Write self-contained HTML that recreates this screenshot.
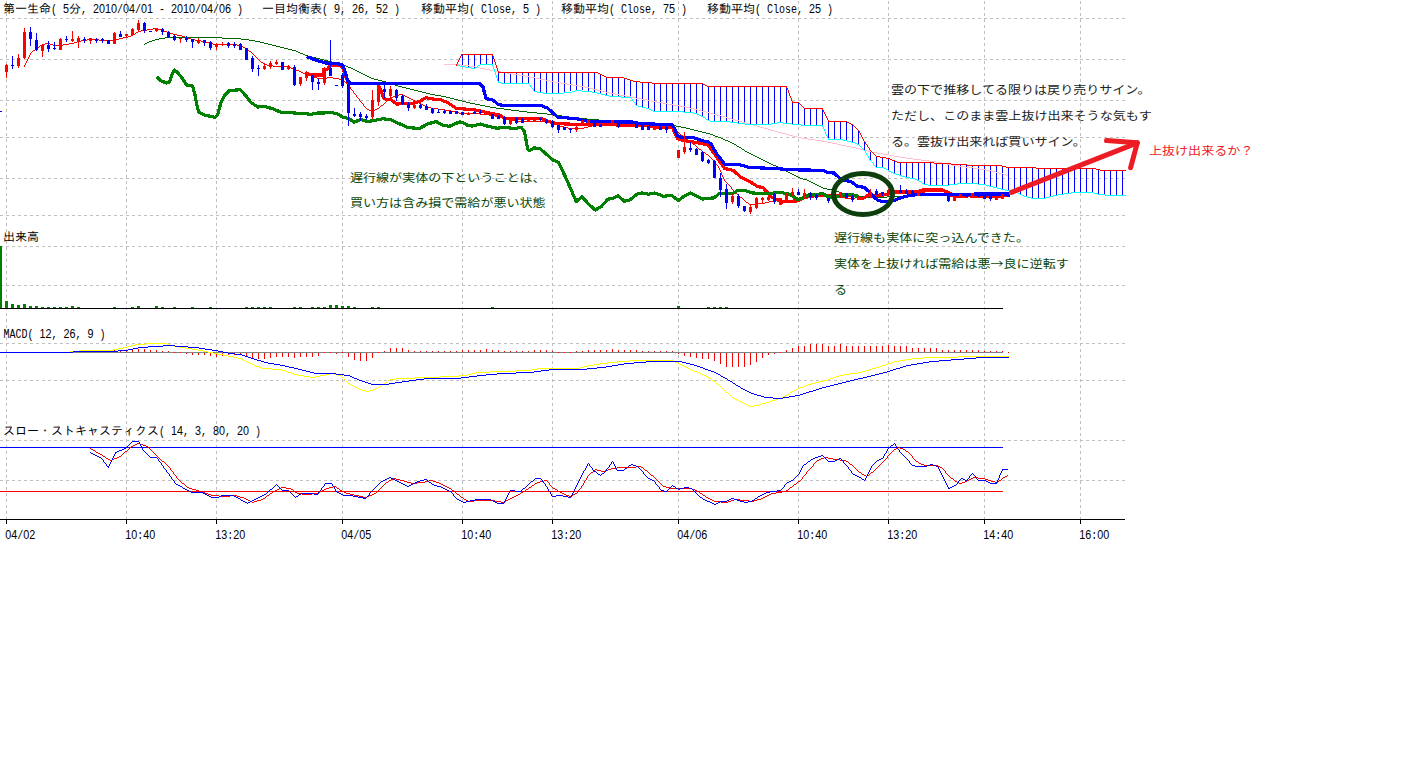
<!DOCTYPE html>
<html lang="ja"><head><meta charset="utf-8"><title>第一生命 5分足 一目均衡表</title>
<style>html,body{margin:0;padding:0;background:#fff;overflow:hidden}svg{display:block}</style>
</head><body>
<svg width="1416" height="768" viewBox="0 0 1416 768">
<rect width="1416" height="768" fill="#fff"/>
<g shape-rendering="crispEdges" stroke="#c0c0c0" stroke-width="1" stroke-dasharray="3 3" fill="none">
<line x1="0" y1="18.5" x2="1125" y2="18.5"/>
<line x1="0" y1="59.5" x2="1125" y2="59.5"/>
<line x1="0" y1="100.5" x2="1125" y2="100.5"/>
<line x1="0" y1="137.5" x2="1125" y2="137.5"/>
<line x1="0" y1="178.5" x2="1125" y2="178.5"/>
<line x1="0" y1="215.5" x2="1125" y2="215.5"/>
<line x1="0" y1="246.5" x2="1125" y2="246.5"/>
<line x1="0" y1="285.5" x2="1125" y2="285.5"/>
<line x1="0" y1="343.5" x2="1125" y2="343.5"/>
<line x1="0" y1="380.5" x2="1125" y2="380.5"/>
<line x1="0" y1="440.5" x2="1125" y2="440.5"/>
<line x1="0" y1="480.5" x2="1125" y2="480.5"/>
<line x1="6.5" y1="1" x2="6.5" y2="519"/>
<line x1="126.5" y1="1" x2="126.5" y2="519"/>
<line x1="216.5" y1="1" x2="216.5" y2="519"/>
<line x1="342.5" y1="1" x2="342.5" y2="519"/>
<line x1="462.5" y1="1" x2="462.5" y2="519"/>
<line x1="552.5" y1="1" x2="552.5" y2="519"/>
<line x1="678.5" y1="1" x2="678.5" y2="519"/>
<line x1="798.5" y1="1" x2="798.5" y2="519"/>
<line x1="888.5" y1="1" x2="888.5" y2="519"/>
<line x1="984.5" y1="1" x2="984.5" y2="519"/>
<line x1="1080.5" y1="1" x2="1080.5" y2="519"/>
</g>
<g shape-rendering="crispEdges">
<rect x="462" y="55" width="1" height="12" fill="#0000ff"/>
<rect x="468" y="55" width="1" height="13" fill="#0000ff"/>
<rect x="474" y="54" width="1" height="14" fill="#0000ff"/>
<rect x="480" y="54" width="1" height="10" fill="#0000ff"/>
<rect x="486" y="54" width="1" height="10" fill="#0000ff"/>
<rect x="492" y="54" width="1" height="10" fill="#0000ff"/>
<rect x="498" y="72" width="1" height="10" fill="#0000ff"/>
<rect x="504" y="72" width="1" height="11" fill="#0000ff"/>
<rect x="510" y="72" width="1" height="11" fill="#0000ff"/>
<rect x="516" y="72" width="1" height="11" fill="#0000ff"/>
<rect x="522" y="72" width="1" height="11" fill="#0000ff"/>
<rect x="528" y="72" width="1" height="11" fill="#0000ff"/>
<rect x="534" y="72" width="1" height="19" fill="#0000ff"/>
<rect x="540" y="72" width="1" height="20" fill="#0000ff"/>
<rect x="546" y="72" width="1" height="21" fill="#0000ff"/>
<rect x="552" y="72" width="1" height="21" fill="#0000ff"/>
<rect x="558" y="72" width="1" height="21" fill="#0000ff"/>
<rect x="564" y="72" width="1" height="20" fill="#0000ff"/>
<rect x="570" y="72" width="1" height="19" fill="#0000ff"/>
<rect x="576" y="72" width="1" height="18" fill="#0000ff"/>
<rect x="582" y="72" width="1" height="18" fill="#0000ff"/>
<rect x="588" y="72" width="1" height="19" fill="#0000ff"/>
<rect x="594" y="72" width="1" height="20" fill="#0000ff"/>
<rect x="600" y="74" width="1" height="20" fill="#0000ff"/>
<rect x="606" y="77" width="1" height="18" fill="#0000ff"/>
<rect x="612" y="77" width="1" height="19" fill="#0000ff"/>
<rect x="618" y="78" width="1" height="19" fill="#0000ff"/>
<rect x="624" y="79" width="1" height="18" fill="#0000ff"/>
<rect x="630" y="80" width="1" height="17" fill="#0000ff"/>
<rect x="636" y="82" width="1" height="24" fill="#0000ff"/>
<rect x="642" y="82" width="1" height="25" fill="#0000ff"/>
<rect x="648" y="82" width="1" height="26" fill="#0000ff"/>
<rect x="654" y="83" width="1" height="29" fill="#0000ff"/>
<rect x="660" y="84" width="1" height="28" fill="#0000ff"/>
<rect x="666" y="84" width="1" height="28" fill="#0000ff"/>
<rect x="672" y="84" width="1" height="28" fill="#0000ff"/>
<rect x="678" y="84" width="1" height="28" fill="#0000ff"/>
<rect x="684" y="84" width="1" height="28" fill="#0000ff"/>
<rect x="690" y="84" width="1" height="29" fill="#0000ff"/>
<rect x="696" y="84" width="1" height="30" fill="#0000ff"/>
<rect x="702" y="84" width="1" height="33" fill="#0000ff"/>
<rect x="708" y="86" width="1" height="34" fill="#0000ff"/>
<rect x="714" y="86" width="1" height="35" fill="#0000ff"/>
<rect x="720" y="86" width="1" height="35" fill="#0000ff"/>
<rect x="726" y="86" width="1" height="35" fill="#0000ff"/>
<rect x="732" y="86" width="1" height="36" fill="#0000ff"/>
<rect x="738" y="86" width="1" height="37" fill="#0000ff"/>
<rect x="744" y="86" width="1" height="38" fill="#0000ff"/>
<rect x="750" y="86" width="1" height="38" fill="#0000ff"/>
<rect x="756" y="86" width="1" height="38" fill="#0000ff"/>
<rect x="762" y="86" width="1" height="38" fill="#0000ff"/>
<rect x="768" y="86" width="1" height="38" fill="#0000ff"/>
<rect x="774" y="86" width="1" height="37" fill="#0000ff"/>
<rect x="780" y="86" width="1" height="36" fill="#0000ff"/>
<rect x="786" y="87" width="1" height="36" fill="#0000ff"/>
<rect x="792" y="102" width="1" height="22" fill="#0000ff"/>
<rect x="798" y="102" width="1" height="22" fill="#0000ff"/>
<rect x="804" y="108" width="1" height="17" fill="#0000ff"/>
<rect x="810" y="108" width="1" height="17" fill="#0000ff"/>
<rect x="816" y="108" width="1" height="17" fill="#0000ff"/>
<rect x="822" y="108" width="1" height="17" fill="#0000ff"/>
<rect x="828" y="122" width="1" height="18" fill="#0000ff"/>
<rect x="834" y="122" width="1" height="18" fill="#0000ff"/>
<rect x="840" y="122" width="1" height="18" fill="#0000ff"/>
<rect x="846" y="122" width="1" height="19" fill="#0000ff"/>
<rect x="852" y="125" width="1" height="17" fill="#0000ff"/>
<rect x="858" y="130" width="1" height="14" fill="#0000ff"/>
<rect x="864" y="141" width="1" height="9" fill="#0000ff"/>
<rect x="870" y="151" width="1" height="9" fill="#0000ff"/>
<rect x="876" y="156" width="1" height="11" fill="#0000ff"/>
<rect x="882" y="157" width="1" height="11" fill="#0000ff"/>
<rect x="888" y="159" width="1" height="12" fill="#0000ff"/>
<rect x="894" y="161" width="1" height="12" fill="#0000ff"/>
<rect x="900" y="162" width="1" height="13" fill="#0000ff"/>
<rect x="906" y="162" width="1" height="15" fill="#0000ff"/>
<rect x="912" y="162" width="1" height="16" fill="#0000ff"/>
<rect x="918" y="162" width="1" height="18" fill="#0000ff"/>
<rect x="924" y="162" width="1" height="22" fill="#0000ff"/>
<rect x="930" y="163" width="1" height="22" fill="#0000ff"/>
<rect x="936" y="163" width="1" height="22" fill="#0000ff"/>
<rect x="942" y="164" width="1" height="22" fill="#0000ff"/>
<rect x="948" y="164" width="1" height="21" fill="#0000ff"/>
<rect x="954" y="164" width="1" height="20" fill="#0000ff"/>
<rect x="960" y="165" width="1" height="19" fill="#0000ff"/>
<rect x="966" y="165" width="1" height="18" fill="#0000ff"/>
<rect x="972" y="165" width="1" height="18" fill="#0000ff"/>
<rect x="978" y="165" width="1" height="19" fill="#0000ff"/>
<rect x="984" y="165" width="1" height="19" fill="#0000ff"/>
<rect x="990" y="166" width="1" height="21" fill="#0000ff"/>
<rect x="996" y="166" width="1" height="22" fill="#0000ff"/>
<rect x="1002" y="166" width="1" height="23" fill="#0000ff"/>
<rect x="1008" y="168" width="1" height="23" fill="#0000ff"/>
<rect x="1014" y="168" width="1" height="24" fill="#0000ff"/>
<rect x="1020" y="168" width="1" height="27" fill="#0000ff"/>
<rect x="1026" y="168" width="1" height="29" fill="#0000ff"/>
<rect x="1032" y="168" width="1" height="31" fill="#0000ff"/>
<rect x="1038" y="168" width="1" height="31" fill="#0000ff"/>
<rect x="1044" y="168" width="1" height="30" fill="#0000ff"/>
<rect x="1050" y="168" width="1" height="29" fill="#0000ff"/>
<rect x="1056" y="168" width="1" height="28" fill="#0000ff"/>
<rect x="1062" y="168" width="1" height="26" fill="#0000ff"/>
<rect x="1068" y="168" width="1" height="25" fill="#0000ff"/>
<rect x="1074" y="168" width="1" height="24" fill="#0000ff"/>
<rect x="1080" y="168" width="1" height="24" fill="#0000ff"/>
<rect x="1086" y="168" width="1" height="24" fill="#0000ff"/>
<rect x="1092" y="168" width="1" height="24" fill="#0000ff"/>
<rect x="1098" y="170" width="1" height="24" fill="#0000ff"/>
<rect x="1104" y="170" width="1" height="24" fill="#0000ff"/>
<rect x="1110" y="170" width="1" height="25" fill="#0000ff"/>
<rect x="1116" y="170" width="1" height="25" fill="#0000ff"/>
<rect x="1122" y="170" width="1" height="25" fill="#0000ff"/>
</g>
<g shape-rendering="crispEdges" stroke-linejoin="round">
<path d="M444 64.5h17M461 65.5h8M469 66.5h6M475 67.5h5M480 68.5h5M485 69.5h5M490 70.5h5M495 71.5h6M501 72.5h6M507 73.5h6M513 74.5h6M519 75.5h6M525 76.5h5M530 77.5h5M535 78.5h5M540 79.5h5M545 80.5h5M550 81.5h5M555 82.5h6M561 83.5h6M567 84.5h6M573 85.5h6M579 86.5h6M585 87.5h4M589 88.5h4M593 89.5h4M597 90.5h5M602 91.5h4M606 92.5h4M610 93.5h5M615 94.5h5M620 95.5h5M625 96.5h6M631 97.5h5M636 98.5h5M641 99.5h6M647 100.5h5M652 101.5h5M657 102.5h6M663 103.5h5M668 104.5h6M674 105.5h6M680 106.5h6M686 107.5h4M690 108.5h4M694 109.5h4M698 110.5h4M702 111.5h4M706 112.5h4M710 113.5h4M714 114.5h3M717 115.5h4M721 116.5h4M725 117.5h3M728 118.5h4M732 119.5h3M735 120.5h4M739 121.5h3M742 122.5h4M746 123.5h4M750 124.5h3M753 125.5h4M757 126.5h3M760 127.5h4M764 128.5h4M768 129.5h3M771 130.5h4M775 131.5h3M778 132.5h4M782 133.5h4M786 134.5h3M789 135.5h4M793 136.5h4M797 137.5h5M802 138.5h6M808 139.5h7M815 140.5h6M821 141.5h6M827 142.5h5M832 143.5h5M837 144.5h4M841 145.5h5M846 146.5h5M851 147.5h5M856 148.5h4M860 149.5h4M864 150.5h4M868 151.5h4M872 152.5h5M877 153.5h6M883 154.5h6M889 155.5h5M894 156.5h6M900 157.5h6M906 158.5h7M913 159.5h8M921 160.5h8M929 161.5h7M936 162.5h6M942 163.5h5M947 164.5h5M952 165.5h6M958 166.5h7M965 167.5h8M973 168.5h7M980 169.5h6M986 170.5h6M992 171.5h4M996 172.5h3M999 173.5h4M1003 174.5h3M1006 175.5h2" fill="none" stroke="#ffc0cb" stroke-width="1"/>
<path d="M480 64.5h13M457 65.5h3M478 65.5h2M460 66.5h5M465 67.5h6M475 67.5h2M471 68.5h4M498 82.5h3M501 83.5h28M575 90.5h7M534 91.5h3M572 91.5h3M582 91.5h10M537 92.5h6M564 92.5h8M592 92.5h5M543 93.5h21M597 93.5h4M601 94.5h4M605 95.5h4M609 96.5h12M621 97.5h10M636 105.5h2M638 106.5h4M642 107.5h4M646 108.5h3M649 109.5h2M651 110.5h2M653 111.5h31M684 112.5h9M693 113.5h4M697 114.5h2M699 115.5h2M701 116.5h2M703 117.5h2M706 119.5h2M708 120.5h2M710 121.5h20M730 122.5h7M777 122.5h6M737 123.5h8M771 123.5h6M783 123.5h9M745 124.5h26M792 124.5h9M801 125.5h22M828 139.5h15M843 140.5h4M847 141.5h4M851 142.5h4M855 143.5h2M857 144.5h2M876 167.5h8M884 168.5h2M886 169.5h2M889 171.5h2M891 172.5h2M893 173.5h3M896 174.5h3M899 175.5h3M902 176.5h3M905 177.5h5M910 178.5h5M915 179.5h2M917 180.5h2M919 181.5h2M922 183.5h2M957 183.5h21M924 184.5h4M949 184.5h8M978 184.5h8M928 185.5h21M986 185.5h3M989 186.5h4M993 187.5h4M997 188.5h4M1001 189.5h4M1005 190.5h6M1011 191.5h5M1016 192.5h2M1071 192.5h23M1018 193.5h2M1064 193.5h7M1094 193.5h4M1020 194.5h2M1058 194.5h6M1098 194.5h7M1022 195.5h2M1053 195.5h5M1105 195.5h21M1024 196.5h3M1049 196.5h4M1027 197.5h4M1046 197.5h3M1031 198.5h15M477.5 66v1M492.5 65v1M493.5 66v3M494.5 69v3M495.5 72v3M496.5 75v3M497.5 78v3M498.5 81v1M529.5 84v1M530.5 85v2M531.5 87v1M532.5 88v1M533.5 89v2M631.5 98v1M632.5 99v2M633.5 101v1M634.5 102v1M635.5 103v2M705.5 118v1M822.5 126v1M823.5 127v2M824.5 129v2M825.5 131v3M826.5 134v2M827.5 136v2M828.5 138v1M859.5 145v1M860.5 146v1M861.5 147v1M862.5 148v1M863.5 149v1M864.5 150v1M865.5 151v2M866.5 153v2M867.5 155v1M868.5 156v2M869.5 158v2M870.5 160v1M871.5 161v1M872.5 162v1M873.5 163v2M874.5 165v1M875.5 166v1M888.5 170v1M921.5 182v1" fill="none" stroke="#00ffff" stroke-width="1"/>
<path d="M461 54.5h32M498 72.5h100M598 73.5h2M600 74.5h2M602 75.5h2M604 76.5h2M606 77.5h18M624 78.5h3M627 79.5h3M630 80.5h3M633 81.5h7M640 82.5h12M652 83.5h51M703 84.5h2M705 85.5h2M707 86.5h80M792 102.5h7M804 108.5h19M828 121.5h19M847 122.5h2M849 123.5h2M851 124.5h2M876 156.5h4M880 157.5h6M886 158.5h4M890 159.5h2M892 160.5h3M895 161.5h2M897 162.5h37M934 163.5h17M951 164.5h16M967 165.5h35M1002 166.5h4M1006 167.5h30M1036 168.5h60M1096 169.5h4M1100 170.5h26M456.5 64v2M457.5 62v2M458.5 60v2M459.5 58v2M460.5 56v2M461.5 55v1M492.5 55v1M493.5 56v3M494.5 59v3M495.5 62v3M496.5 65v3M497.5 68v3M498.5 71v1M786.5 87v1M787.5 88v2M788.5 90v3M789.5 93v3M790.5 96v2M791.5 98v3M792.5 101v1M799.5 103v1M800.5 104v1M801.5 105v1M802.5 106v1M803.5 107v1M822.5 109v1M823.5 110v2M824.5 112v2M825.5 114v2M826.5 116v2M827.5 118v2M828.5 120v1M853.5 125v1M854.5 126v1M855.5 127v1M856.5 128v1M857.5 129v1M858.5 130v1M859.5 131v2M860.5 133v2M861.5 135v2M862.5 137v2M863.5 139v2M864.5 141v1M865.5 142v2M866.5 144v1M867.5 145v2M868.5 147v1M869.5 148v2M870.5 150v1M871.5 151v1M872.5 152v1M873.5 153v1M874.5 154v1M875.5 155v1" fill="none" stroke="#ff0000" stroke-width="1"/>
<path d="M165 37.5h57M159 38.5h6M222 38.5h19M155 39.5h4M241 39.5h8M152 40.5h3M249 40.5h6M149 41.5h3M255 41.5h5M147 42.5h2M260 42.5h4M145 43.5h2M264 43.5h4M268 44.5h4M272 45.5h4M276 46.5h4M280 47.5h4M284 48.5h4M288 49.5h4M292 50.5h4M296 51.5h2M298 52.5h2M300 53.5h3M303 54.5h2M305 55.5h3M308 56.5h4M312 57.5h4M316 58.5h4M320 59.5h4M324 60.5h4M328 61.5h4M332 62.5h4M336 63.5h4M340 64.5h4M344 65.5h2M346 66.5h2M348 67.5h3M351 68.5h2M353 69.5h2M355 70.5h2M357 71.5h2M359 72.5h2M361 73.5h2M363 74.5h2M365 75.5h2M367 76.5h2M369 77.5h2M371 78.5h3M374 79.5h4M378 80.5h4M382 81.5h4M386 82.5h3M389 83.5h3M392 84.5h3M395 85.5h3M398 86.5h4M402 87.5h4M406 88.5h4M410 89.5h4M414 90.5h4M418 91.5h4M422 92.5h4M426 93.5h4M430 94.5h5M435 95.5h6M441 96.5h5M446 97.5h4M450 98.5h4M454 99.5h4M458 100.5h4M462 101.5h4M466 102.5h4M470 103.5h5M475 104.5h5M480 105.5h5M485 106.5h5M490 107.5h6M496 108.5h8M504 109.5h7M511 110.5h8M519 111.5h8M527 112.5h10M537 113.5h10M547 114.5h9M556 115.5h6M562 116.5h7M569 117.5h8M577 118.5h10M587 119.5h12M599 120.5h13M612 121.5h14M626 122.5h13M639 123.5h14M653 124.5h14M667 125.5h9M676 126.5h5M681 127.5h5M686 128.5h4M690 129.5h4M694 130.5h4M698 131.5h4M702 132.5h4M706 133.5h4M710 134.5h3M713 135.5h2M715 136.5h3M718 137.5h3M721 138.5h2M723 139.5h2M725 140.5h3M728 141.5h2M730 142.5h2M732 143.5h2M734 144.5h2M737 146.5h2M739 147.5h2M742 149.5h2M745 151.5h2M747 152.5h2M749 153.5h2M751 154.5h2M753 155.5h2M755 156.5h2M757 157.5h2M759 158.5h2M761 159.5h2M763 160.5h2M765 161.5h2M767 162.5h2M769 163.5h2M771 164.5h2M773 165.5h3M776 166.5h2M778 167.5h2M780 168.5h2M782 169.5h2M784 170.5h2M786 171.5h2M788 172.5h2M790 173.5h2M792 174.5h2M794 175.5h2M796 176.5h2M798 177.5h2M800 178.5h3M803 179.5h4M807 180.5h2M809 181.5h2M811 182.5h2M813 183.5h2M815 184.5h2M817 185.5h2M819 186.5h2M821 187.5h2M823 188.5h4M827 189.5h5M832 190.5h4M836 191.5h3M839 192.5h3M842 193.5h3M845 194.5h3M915 194.5h94M848 195.5h8M905 195.5h10M856 196.5h12M887 196.5h18M868 197.5h19M144.5 44v1M736.5 145v1M741.5 148v1M744.5 150v1" fill="none" stroke="#006400" stroke-width="1"/>
</g>
<g shape-rendering="crispEdges" stroke-linejoin="round" stroke-linecap="butt">
<path d="M153 28.5h5M147 29.5h6M158 29.5h3M141 30.5h6M161 30.5h3M138 31.5h3M164 31.5h3M136 32.5h2M167 32.5h3M170 33.5h3M133 34.5h2M173 34.5h4M131 35.5h2M177 35.5h5M128 36.5h3M182 36.5h3M123 37.5h5M185 37.5h3M119 38.5h4M188 38.5h3M87 39.5h12M116 39.5h3M191 39.5h4M81 40.5h6M99 40.5h17M195 40.5h6M77 41.5h4M201 41.5h5M74 42.5h3M206 42.5h3M45 43.5h5M69 43.5h5M209 43.5h4M42 44.5h3M50 44.5h3M63 44.5h6M213 44.5h24M40 45.5h2M53 45.5h10M237 45.5h4M241 46.5h2M37 47.5h2M243 47.5h2M245 48.5h2M33 50.5h2M249 51.5h2M261 62.5h2M264 64.5h3M267 65.5h6M273 66.5h16M289 67.5h2M291 68.5h2M293 69.5h3M296 70.5h3M299 71.5h2M301 72.5h2M303 73.5h2M305 74.5h3M308 75.5h3M311 76.5h3M314 77.5h3M327 77.5h6M317 78.5h10M333 78.5h6M339 79.5h4M399 94.5h4M395 95.5h4M403 95.5h2M393 96.5h2M405 96.5h2M391 97.5h2M407 97.5h2M409 98.5h2M411 99.5h2M387 100.5h2M413 100.5h2M415 101.5h2M417 102.5h2M419 103.5h2M421 104.5h2M381 105.5h2M423 105.5h2M425 106.5h2M427 107.5h4M377 108.5h2M431 108.5h7M367 109.5h2M375 109.5h2M438 109.5h7M369 110.5h2M373 110.5h2M445 110.5h6M371 111.5h2M451 111.5h5M456 112.5h3M459 113.5h21M480 114.5h9M489 115.5h6M495 116.5h5M500 117.5h3M503 118.5h3M506 119.5h3M509 120.5h7M516 121.5h32M548 122.5h3M551 123.5h3M554 124.5h3M600 124.5h15M557 125.5h3M592 125.5h8M615 125.5h18M560 126.5h4M588 126.5h4M633 126.5h14M564 127.5h4M584 127.5h4M647 127.5h9M568 128.5h16M656 128.5h17M673 129.5h2M676 131.5h2M681 135.5h2M685 138.5h2M688 140.5h2M693 144.5h2M699 149.5h2M703 152.5h2M706 154.5h2M900 192.5h25M887 193.5h13M925 193.5h17M880 194.5h7M942 194.5h4M808 195.5h12M874 195.5h6M946 195.5h4M803 196.5h5M820 196.5h15M865 196.5h9M950 196.5h4M968 196.5h41M740 197.5h2M799 197.5h4M835 197.5h10M855 197.5h10M954 197.5h14M796 198.5h3M845 198.5h10M793 199.5h3M773 200.5h20M769 201.5h4M746 202.5h2M765 202.5h4M756 203.5h9M749 204.5h7M24.5 65v2M25.5 63v2M26.5 61v2M27.5 59v2M28.5 57v2M29.5 55v2M30.5 53v2M31.5 52v1M32.5 51v1M35.5 49v1M36.5 48v1M39.5 46v1M135.5 33v1M247.5 49v1M248.5 50v1M251.5 52v1M252.5 53v1M253.5 54v1M254.5 55v1M255.5 56v1M256.5 57v1M257.5 58v1M258.5 59v1M259.5 60v1M260.5 61v1M263.5 63v1M343.5 80v1M344.5 81v1M345.5 82v1M346.5 83v1M347.5 84v1M348.5 85v1M349.5 86v1M350.5 87v2M351.5 89v1M352.5 90v1M353.5 91v2M354.5 93v1M355.5 94v1M356.5 95v2M357.5 97v1M358.5 98v1M359.5 99v2M360.5 101v1M361.5 102v1M362.5 103v1M363.5 104v2M364.5 106v1M365.5 107v1M366.5 108v1M379.5 107v1M380.5 106v1M383.5 104v1M384.5 103v1M385.5 102v1M386.5 101v1M389.5 99v1M390.5 98v1M675.5 130v1M678.5 132v1M679.5 133v1M680.5 134v1M683.5 136v1M684.5 137v1M687.5 139v1M690.5 141v1M691.5 142v1M692.5 143v1M695.5 145v1M696.5 146v1M697.5 147v1M698.5 148v1M701.5 150v1M702.5 151v1M705.5 153v1M708.5 155v1M709.5 156v1M710.5 157v1M711.5 158v1M712.5 159v1M713.5 160v2M714.5 162v1M715.5 163v1M716.5 164v1M717.5 165v1M718.5 166v2M719.5 168v2M720.5 170v2M721.5 172v3M722.5 175v2M723.5 177v2M724.5 179v2M725.5 181v1M726.5 182v1M727.5 183v1M728.5 184v1M729.5 185v1M730.5 186v1M731.5 187v2M732.5 189v1M733.5 190v1M734.5 191v1M735.5 192v1M736.5 193v1M737.5 194v1M738.5 195v1M739.5 196v1M742.5 198v1M743.5 199v1M744.5 200v1M745.5 201v1M748.5 203v1" fill="none" stroke="#ff0000" stroke-width="1"/>
<polyline points="306.8,73.5 311.5,74.9 323.0,74.9 323.6,69.6 327.0,69.6 330.0,65.7 340.6,65.7 342.9,68.4 345.2,74.8 347.7,81.5 349.3,83.7 378.5,83.7 378.5,85.7 381.0,90.7 383.5,98.2 386.0,99.3 391.0,99.8 396.8,104.0 402.7,103.7 412.7,103.2 419.3,101.5 426.0,97.7 432.7,99.0 441.0,99.8 447.7,102.7 456.0,108.2 464.3,109.0 472.0,109.4 488.7,112.8 500.3,115.3 505.3,118.7 542.0,118.7 552.0,122.8 565.3,124.0 588.7,124.5 622.0,125.0 638.7,125.3 672.0,126.7 674.5,132.0 677.8,138.7 682.0,140.3 693.7,142.0 708.0,144.8 716.3,156.7 724.7,168.5 733.0,170.3 741.3,177.5 751.3,182.5 758.0,186.7 763.0,187.5 768.0,193.3 772.2,197.5 778.0,200.0 781.3,202.0 798.0,200.8 804.7,197.5 814.7,195.8 824.7,195.8 838.0,195.3 857.4,196.0 858.8,198.8 864.0,198.0 866.9,196.0 869.8,194.5 872.7,196.6 876.4,195.2 887.3,194.8 889.0,192.0 917.5,191.9 922.5,190.0 942.5,190.0 950.0,193.1 955.0,195.6 985.0,196.2 1008.7,195.8" fill="none" stroke="#ff0000" stroke-width="3.2" />
<polyline points="306.8,56.7 316.0,60.3 326.0,63.0 336.0,63.7 341.0,64.2 343.5,66.7 346.0,75.0 347.7,80.8 350.2,83.5 472.0,83.5 480.3,84.0 483.0,87.0 486.0,98.7 492.0,99.5 497.8,104.0 502.0,105.3 540.3,105.3 547.0,107.8 552.0,112.0 557.8,117.3 565.3,117.8 577.0,118.7 582.0,120.3 592.0,121.7 632.0,122.0 638.7,123.3 650.3,124.0 672.0,124.5 674.5,128.7 677.8,136.2 682.0,137.3 693.7,137.8 702.0,140.7 708.0,141.8 711.3,144.2 716.3,153.3 724.7,164.2 739.7,164.7 749.7,167.5 774.7,168.5 791.3,169.8 823.0,170.3 828.0,172.7 834.0,173.0 839.9,178.4 845.0,180.6 850.8,181.3 857.4,186.4 864.0,187.2 869.8,192.3 874.2,197.4 878.6,200.7 884.4,201.8 888.8,201.6 894.6,200.3 900.0,198.1 908.0,195.8 918.0,194.4 944.0,194.2 1008.7,194.0" fill="none" stroke="#0000ff" stroke-width="3.2" />
<polyline points="156.5,76.7 160.8,80.8 166.7,83.0 169.7,81.7 172.5,73.3 174.5,70.0 177.5,72.5 181.7,77.5 186.7,85.0 192.5,85.8 195.0,95.0 197.5,108.3 199.2,112.5 204.5,115.0 210.5,116.3 215.0,117.5 217.5,115.0 220.8,103.3 224.2,95.8 229.2,90.8 236.0,90.0 240.5,89.8 244.3,94.0 251.0,102.5 257.7,107.0 264.3,106.5 272.7,108.7 281.0,112.3 291.0,112.8 302.7,113.5 311.0,114.3 317.7,113.0 332.7,112.8 337.7,114.0 342.7,117.0 349.3,118.7 354.3,122.3 360.2,119.5 367.7,121.5 374.3,120.5 382.7,118.7 391.0,119.8 399.3,123.7 407.7,127.5 419.3,128.5 427.7,124.0 436.0,121.5 442.7,125.0 449.3,126.3 459.3,122.0 462.7,122.3 467.7,125.5 472.0,126.0 480.3,124.0 488.7,126.5 497.0,128.2 505.3,127.2 513.7,128.7 521.2,127.2 524.5,131.8 527.8,149.5 529.5,150.8 534.5,147.7 540.3,149.0 546.2,154.0 552.8,160.0 558.7,162.5 565.3,176.7 572.0,191.7 576.2,201.7 582.0,196.7 588.7,204.2 595.3,210.0 601.2,206.7 607.8,199.2 612.8,198.3 617.8,195.8 624.5,201.3 630.3,199.7 637.0,194.2 642.0,193.0 648.7,194.2 654.5,193.0 663.7,196.3 671.2,195.3 678.7,200.5 684.5,195.8 690.3,193.0 696.2,195.8 702.8,199.2 708.0,198.2 713.8,198.0 719.7,193.3 733.0,193.3 738.0,190.3 743.8,190.3 753.0,193.0 763.0,193.7 774.7,193.0 781.3,192.5 789.7,194.2 798.0,199.7 803.8,197.5 809.7,194.7 816.3,195.0 822.2,193.3 828.0,196.7 834.7,197.5 846.3,194.7 853.0,194.7 858.8,196.7" fill="none" stroke="#008000" stroke-width="3.2" />
</g>
<g shape-rendering="crispEdges">
<rect x="0" y="111" width="1" height="1" fill="#0000ff"/>
<rect x="-1" y="111" width="3" height="1" fill="#0000ff"/>
<rect x="6" y="64" width="1" height="14" fill="#ff0000"/>
<rect x="5" y="65" width="3" height="7" fill="#ff0000"/>
<rect x="12" y="56" width="1" height="13" fill="#0000ff"/>
<rect x="11" y="65" width="3" height="1" fill="#0000ff"/>
<rect x="18" y="54" width="1" height="14" fill="#ff0000"/>
<rect x="17" y="58" width="3" height="8" fill="#ff0000"/>
<rect x="24" y="28" width="1" height="31" fill="#ff0000"/>
<rect x="23" y="32" width="3" height="26" fill="#ff0000"/>
<rect x="30" y="27" width="1" height="19" fill="#0000ff"/>
<rect x="29" y="32" width="3" height="7" fill="#0000ff"/>
<rect x="36" y="33" width="1" height="18" fill="#0000ff"/>
<rect x="35" y="40" width="3" height="10" fill="#0000ff"/>
<rect x="42" y="44" width="1" height="13" fill="#ff0000"/>
<rect x="41" y="45" width="3" height="6" fill="#ff0000"/>
<rect x="48" y="41" width="1" height="11" fill="#0000ff"/>
<rect x="47" y="45" width="3" height="4" fill="#0000ff"/>
<rect x="54" y="42" width="1" height="8" fill="#0000ff"/>
<rect x="53" y="48" width="3" height="1" fill="#0000ff"/>
<rect x="60" y="38" width="1" height="12" fill="#ff0000"/>
<rect x="59" y="39" width="3" height="11" fill="#ff0000"/>
<rect x="66" y="36" width="1" height="6" fill="#0000ff"/>
<rect x="65" y="39" width="3" height="1" fill="#0000ff"/>
<rect x="72" y="31" width="1" height="11" fill="#ff0000"/>
<rect x="71" y="39" width="3" height="2" fill="#ff0000"/>
<rect x="78" y="36" width="1" height="12" fill="#ff0000"/>
<rect x="77" y="38" width="3" height="3" fill="#ff0000"/>
<rect x="84" y="37" width="1" height="6" fill="#0000ff"/>
<rect x="83" y="39" width="3" height="1" fill="#0000ff"/>
<rect x="90" y="38" width="1" height="6" fill="#ff0000"/>
<rect x="89" y="38" width="3" height="3" fill="#ff0000"/>
<rect x="96" y="38" width="1" height="5" fill="#0000ff"/>
<rect x="95" y="39" width="3" height="2" fill="#0000ff"/>
<rect x="102" y="38" width="1" height="5" fill="#0000ff"/>
<rect x="101" y="39" width="3" height="2" fill="#0000ff"/>
<rect x="108" y="40" width="1" height="4" fill="#0000ff"/>
<rect x="107" y="40" width="3" height="4" fill="#0000ff"/>
<rect x="114" y="32" width="1" height="12" fill="#ff0000"/>
<rect x="113" y="33" width="3" height="11" fill="#ff0000"/>
<rect x="120" y="31" width="1" height="6" fill="#0000ff"/>
<rect x="119" y="34" width="3" height="3" fill="#0000ff"/>
<rect x="126" y="34" width="1" height="4" fill="#ff0000"/>
<rect x="125" y="34" width="3" height="2" fill="#ff0000"/>
<rect x="132" y="28" width="1" height="8" fill="#ff0000"/>
<rect x="131" y="29" width="3" height="6" fill="#ff0000"/>
<rect x="138" y="20" width="1" height="12" fill="#ff0000"/>
<rect x="137" y="23" width="3" height="7" fill="#ff0000"/>
<rect x="144" y="22" width="1" height="11" fill="#0000ff"/>
<rect x="143" y="23" width="3" height="8" fill="#0000ff"/>
<rect x="150" y="31" width="1" height="1" fill="#0000ff"/>
<rect x="149" y="31" width="3" height="1" fill="#0000ff"/>
<rect x="156" y="28" width="1" height="4" fill="#ff0000"/>
<rect x="155" y="29" width="3" height="2" fill="#ff0000"/>
<rect x="162" y="28" width="1" height="7" fill="#0000ff"/>
<rect x="161" y="29" width="3" height="3" fill="#0000ff"/>
<rect x="168" y="31" width="1" height="7" fill="#0000ff"/>
<rect x="167" y="32" width="3" height="5" fill="#0000ff"/>
<rect x="174" y="35" width="1" height="6" fill="#0000ff"/>
<rect x="173" y="36" width="3" height="4" fill="#0000ff"/>
<rect x="180" y="38" width="1" height="5" fill="#ff0000"/>
<rect x="179" y="38" width="3" height="1" fill="#ff0000"/>
<rect x="186" y="36" width="1" height="6" fill="#0000ff"/>
<rect x="185" y="38" width="3" height="2" fill="#0000ff"/>
<rect x="192" y="39" width="1" height="9" fill="#0000ff"/>
<rect x="191" y="39" width="3" height="3" fill="#0000ff"/>
<rect x="198" y="38" width="1" height="6" fill="#ff0000"/>
<rect x="197" y="40" width="3" height="3" fill="#ff0000"/>
<rect x="204" y="40" width="1" height="6" fill="#0000ff"/>
<rect x="203" y="40" width="3" height="3" fill="#0000ff"/>
<rect x="210" y="41" width="1" height="9" fill="#0000ff"/>
<rect x="209" y="42" width="3" height="6" fill="#0000ff"/>
<rect x="216" y="43" width="1" height="7" fill="#ff0000"/>
<rect x="215" y="44" width="3" height="3" fill="#ff0000"/>
<rect x="222" y="42" width="1" height="4" fill="#ff0000"/>
<rect x="221" y="44" width="3" height="1" fill="#ff0000"/>
<rect x="228" y="42" width="1" height="6" fill="#0000ff"/>
<rect x="227" y="43" width="3" height="3" fill="#0000ff"/>
<rect x="234" y="42" width="1" height="6" fill="#0000ff"/>
<rect x="233" y="44" width="3" height="2" fill="#0000ff"/>
<rect x="240" y="43" width="1" height="7" fill="#0000ff"/>
<rect x="239" y="44" width="3" height="6" fill="#0000ff"/>
<rect x="246" y="48" width="1" height="12" fill="#0000ff"/>
<rect x="245" y="48" width="3" height="12" fill="#0000ff"/>
<rect x="252" y="56" width="1" height="16" fill="#0000ff"/>
<rect x="251" y="58" width="3" height="11" fill="#0000ff"/>
<rect x="258" y="65" width="1" height="11" fill="#0000ff"/>
<rect x="257" y="68" width="3" height="1" fill="#0000ff"/>
<rect x="264" y="63" width="1" height="7" fill="#ff0000"/>
<rect x="263" y="66" width="3" height="3" fill="#ff0000"/>
<rect x="270" y="61" width="1" height="8" fill="#ff0000"/>
<rect x="269" y="63" width="3" height="4" fill="#ff0000"/>
<rect x="276" y="60" width="1" height="5" fill="#ff0000"/>
<rect x="275" y="62" width="3" height="2" fill="#ff0000"/>
<rect x="282" y="62" width="1" height="8" fill="#0000ff"/>
<rect x="281" y="62" width="3" height="8" fill="#0000ff"/>
<rect x="288" y="65" width="1" height="5" fill="#ff0000"/>
<rect x="287" y="66" width="3" height="3" fill="#ff0000"/>
<rect x="294" y="65" width="1" height="21" fill="#0000ff"/>
<rect x="293" y="67" width="3" height="18" fill="#0000ff"/>
<rect x="300" y="77" width="1" height="9" fill="#ff0000"/>
<rect x="299" y="77" width="3" height="7" fill="#ff0000"/>
<rect x="306" y="71" width="1" height="10" fill="#ff0000"/>
<rect x="305" y="72" width="3" height="6" fill="#ff0000"/>
<rect x="312" y="75" width="1" height="15" fill="#0000ff"/>
<rect x="311" y="75" width="3" height="7" fill="#0000ff"/>
<rect x="318" y="79" width="1" height="11" fill="#0000ff"/>
<rect x="317" y="82" width="3" height="2" fill="#0000ff"/>
<rect x="324" y="67" width="1" height="18" fill="#ff0000"/>
<rect x="323" y="69" width="3" height="14" fill="#ff0000"/>
<rect x="330" y="40" width="1" height="36" fill="#0000ff"/>
<rect x="329" y="68" width="3" height="8" fill="#0000ff"/>
<rect x="336" y="85" width="1" height="1" fill="#0000ff"/>
<rect x="335" y="85" width="3" height="1" fill="#0000ff"/>
<rect x="342" y="73" width="1" height="15" fill="#0000ff"/>
<rect x="341" y="75" width="3" height="11" fill="#0000ff"/>
<rect x="348" y="83" width="1" height="43" fill="#0000ff"/>
<rect x="347" y="84" width="3" height="29" fill="#0000ff"/>
<rect x="354" y="108" width="1" height="9" fill="#0000ff"/>
<rect x="353" y="114" width="3" height="2" fill="#0000ff"/>
<rect x="360" y="112" width="1" height="9" fill="#0000ff"/>
<rect x="359" y="114" width="3" height="3" fill="#0000ff"/>
<rect x="366" y="114" width="1" height="6" fill="#0000ff"/>
<rect x="365" y="116" width="3" height="2" fill="#0000ff"/>
<rect x="372" y="90" width="1" height="29" fill="#ff0000"/>
<rect x="371" y="100" width="3" height="17" fill="#ff0000"/>
<rect x="378" y="85" width="1" height="21" fill="#ff0000"/>
<rect x="377" y="86" width="3" height="16" fill="#ff0000"/>
<rect x="384" y="83" width="1" height="15" fill="#0000ff"/>
<rect x="383" y="89" width="3" height="3" fill="#0000ff"/>
<rect x="390" y="86" width="1" height="12" fill="#ff0000"/>
<rect x="389" y="89" width="3" height="7" fill="#ff0000"/>
<rect x="396" y="89" width="1" height="12" fill="#0000ff"/>
<rect x="395" y="90" width="3" height="8" fill="#0000ff"/>
<rect x="402" y="95" width="1" height="10" fill="#0000ff"/>
<rect x="401" y="96" width="3" height="8" fill="#0000ff"/>
<rect x="408" y="102" width="1" height="9" fill="#0000ff"/>
<rect x="407" y="104" width="3" height="4" fill="#0000ff"/>
<rect x="414" y="100" width="1" height="9" fill="#ff0000"/>
<rect x="413" y="105" width="3" height="3" fill="#ff0000"/>
<rect x="420" y="104" width="1" height="5" fill="#0000ff"/>
<rect x="419" y="105" width="3" height="3" fill="#0000ff"/>
<rect x="426" y="104" width="1" height="6" fill="#0000ff"/>
<rect x="425" y="106" width="3" height="4" fill="#0000ff"/>
<rect x="432" y="108" width="1" height="6" fill="#0000ff"/>
<rect x="431" y="109" width="3" height="4" fill="#0000ff"/>
<rect x="438" y="109" width="1" height="3" fill="#0000ff"/>
<rect x="437" y="112" width="3" height="1" fill="#0000ff"/>
<rect x="444" y="110" width="1" height="4" fill="#0000ff"/>
<rect x="443" y="111" width="3" height="2" fill="#0000ff"/>
<rect x="450" y="111" width="1" height="3" fill="#0000ff"/>
<rect x="449" y="111" width="3" height="3" fill="#0000ff"/>
<rect x="456" y="111" width="1" height="3" fill="#0000ff"/>
<rect x="455" y="111" width="3" height="3" fill="#0000ff"/>
<rect x="462" y="112" width="1" height="3" fill="#0000ff"/>
<rect x="461" y="112" width="3" height="3" fill="#0000ff"/>
<rect x="468" y="112" width="1" height="3" fill="#ff0000"/>
<rect x="467" y="113" width="3" height="2" fill="#ff0000"/>
<rect x="474" y="111" width="1" height="3" fill="#0000ff"/>
<rect x="473" y="112" width="3" height="2" fill="#0000ff"/>
<rect x="480" y="110" width="1" height="4" fill="#0000ff"/>
<rect x="479" y="112" width="3" height="1" fill="#0000ff"/>
<rect x="486" y="112" width="1" height="2" fill="#ff0000"/>
<rect x="485" y="112" width="3" height="2" fill="#ff0000"/>
<rect x="492" y="114" width="1" height="5" fill="#0000ff"/>
<rect x="491" y="114" width="3" height="5" fill="#0000ff"/>
<rect x="498" y="115" width="1" height="4" fill="#0000ff"/>
<rect x="497" y="116" width="3" height="3" fill="#0000ff"/>
<rect x="504" y="116" width="1" height="9" fill="#0000ff"/>
<rect x="503" y="117" width="3" height="7" fill="#0000ff"/>
<rect x="510" y="118" width="1" height="7" fill="#ff0000"/>
<rect x="509" y="119" width="3" height="5" fill="#ff0000"/>
<rect x="516" y="117" width="1" height="7" fill="#0000ff"/>
<rect x="515" y="118" width="3" height="5" fill="#0000ff"/>
<rect x="522" y="118" width="1" height="5" fill="#0000ff"/>
<rect x="521" y="119" width="3" height="4" fill="#0000ff"/>
<rect x="528" y="118" width="1" height="4" fill="#ff0000"/>
<rect x="527" y="119" width="3" height="2" fill="#ff0000"/>
<rect x="534" y="118" width="1" height="4" fill="#ff0000"/>
<rect x="533" y="119" width="3" height="2" fill="#ff0000"/>
<rect x="540" y="117" width="1" height="4" fill="#0000ff"/>
<rect x="539" y="118" width="3" height="2" fill="#0000ff"/>
<rect x="546" y="119" width="1" height="5" fill="#0000ff"/>
<rect x="545" y="120" width="3" height="3" fill="#0000ff"/>
<rect x="552" y="120" width="1" height="8" fill="#0000ff"/>
<rect x="551" y="121" width="3" height="6" fill="#0000ff"/>
<rect x="558" y="125" width="1" height="8" fill="#0000ff"/>
<rect x="557" y="125" width="3" height="5" fill="#0000ff"/>
<rect x="564" y="127" width="1" height="3" fill="#0000ff"/>
<rect x="563" y="127" width="3" height="3" fill="#0000ff"/>
<rect x="570" y="128" width="1" height="5" fill="#0000ff"/>
<rect x="569" y="129" width="3" height="1" fill="#0000ff"/>
<rect x="576" y="125" width="1" height="7" fill="#ff0000"/>
<rect x="575" y="127" width="3" height="3" fill="#ff0000"/>
<rect x="582" y="120" width="1" height="4" fill="#ff0000"/>
<rect x="581" y="121" width="3" height="3" fill="#ff0000"/>
<rect x="588" y="120" width="1" height="4" fill="#ff0000"/>
<rect x="587" y="120" width="3" height="3" fill="#ff0000"/>
<rect x="594" y="122" width="1" height="5" fill="#0000ff"/>
<rect x="593" y="123" width="3" height="4" fill="#0000ff"/>
<rect x="600" y="124" width="1" height="3" fill="#0000ff"/>
<rect x="599" y="125" width="3" height="2" fill="#0000ff"/>
<rect x="606" y="123" width="1" height="3" fill="#ff0000"/>
<rect x="605" y="124" width="3" height="2" fill="#ff0000"/>
<rect x="612" y="120" width="1" height="4" fill="#ff0000"/>
<rect x="611" y="120" width="3" height="3" fill="#ff0000"/>
<rect x="618" y="122" width="1" height="6" fill="#0000ff"/>
<rect x="617" y="123" width="3" height="4" fill="#0000ff"/>
<rect x="636" y="122" width="1" height="6" fill="#0000ff"/>
<rect x="635" y="123" width="3" height="5" fill="#0000ff"/>
<rect x="642" y="124" width="1" height="6" fill="#0000ff"/>
<rect x="641" y="125" width="3" height="5" fill="#0000ff"/>
<rect x="648" y="126" width="1" height="4" fill="#0000ff"/>
<rect x="647" y="126" width="3" height="4" fill="#0000ff"/>
<rect x="654" y="126" width="1" height="4" fill="#ff0000"/>
<rect x="653" y="127" width="3" height="3" fill="#ff0000"/>
<rect x="660" y="126" width="1" height="4" fill="#0000ff"/>
<rect x="659" y="127" width="3" height="3" fill="#0000ff"/>
<rect x="666" y="126" width="1" height="7" fill="#0000ff"/>
<rect x="665" y="127" width="3" height="3" fill="#0000ff"/>
<rect x="678" y="150" width="1" height="8" fill="#ff0000"/>
<rect x="677" y="150" width="3" height="8" fill="#ff0000"/>
<rect x="684" y="132" width="1" height="22" fill="#ff0000"/>
<rect x="683" y="147" width="3" height="5" fill="#ff0000"/>
<rect x="690" y="142" width="1" height="10" fill="#0000ff"/>
<rect x="689" y="148" width="3" height="2" fill="#0000ff"/>
<rect x="696" y="148" width="1" height="7" fill="#0000ff"/>
<rect x="695" y="149" width="3" height="6" fill="#0000ff"/>
<rect x="702" y="151" width="1" height="11" fill="#0000ff"/>
<rect x="701" y="152" width="3" height="9" fill="#0000ff"/>
<rect x="708" y="159" width="1" height="5" fill="#0000ff"/>
<rect x="707" y="160" width="3" height="3" fill="#0000ff"/>
<rect x="714" y="160" width="1" height="18" fill="#0000ff"/>
<rect x="713" y="161" width="3" height="17" fill="#0000ff"/>
<rect x="720" y="173" width="1" height="24" fill="#0000ff"/>
<rect x="719" y="178" width="3" height="12" fill="#0000ff"/>
<rect x="726" y="184" width="1" height="25" fill="#0000ff"/>
<rect x="725" y="189" width="3" height="14" fill="#0000ff"/>
<rect x="732" y="194" width="1" height="10" fill="#ff0000"/>
<rect x="731" y="196" width="3" height="6" fill="#ff0000"/>
<rect x="738" y="194" width="1" height="14" fill="#0000ff"/>
<rect x="737" y="196" width="3" height="10" fill="#0000ff"/>
<rect x="744" y="206" width="1" height="6" fill="#0000ff"/>
<rect x="743" y="206" width="3" height="5" fill="#0000ff"/>
<rect x="750" y="204" width="1" height="10" fill="#ff0000"/>
<rect x="749" y="207" width="3" height="5" fill="#ff0000"/>
<rect x="756" y="197" width="1" height="12" fill="#ff0000"/>
<rect x="755" y="198" width="3" height="10" fill="#ff0000"/>
<rect x="762" y="197" width="1" height="7" fill="#ff0000"/>
<rect x="761" y="198" width="3" height="2" fill="#ff0000"/>
<rect x="768" y="196" width="1" height="5" fill="#ff0000"/>
<rect x="767" y="197" width="3" height="3" fill="#ff0000"/>
<rect x="774" y="193" width="1" height="11" fill="#0000ff"/>
<rect x="773" y="194" width="3" height="8" fill="#0000ff"/>
<rect x="780" y="198" width="1" height="7" fill="#ff0000"/>
<rect x="779" y="198" width="3" height="7" fill="#ff0000"/>
<rect x="786" y="193" width="1" height="8" fill="#ff0000"/>
<rect x="785" y="195" width="3" height="5" fill="#ff0000"/>
<rect x="792" y="188" width="1" height="8" fill="#ff0000"/>
<rect x="791" y="192" width="3" height="3" fill="#ff0000"/>
<rect x="798" y="189" width="1" height="6" fill="#0000ff"/>
<rect x="797" y="192" width="3" height="3" fill="#0000ff"/>
<rect x="804" y="189" width="1" height="10" fill="#ff0000"/>
<rect x="803" y="193" width="3" height="4" fill="#ff0000"/>
<rect x="810" y="192" width="1" height="8" fill="#0000ff"/>
<rect x="809" y="193" width="3" height="4" fill="#0000ff"/>
<rect x="816" y="194" width="1" height="6" fill="#0000ff"/>
<rect x="815" y="195" width="3" height="3" fill="#0000ff"/>
<rect x="828" y="198" width="1" height="5" fill="#0000ff"/>
<rect x="827" y="198" width="3" height="3" fill="#0000ff"/>
<rect x="840" y="192" width="1" height="6" fill="#ff0000"/>
<rect x="839" y="192" width="3" height="6" fill="#ff0000"/>
<rect x="846" y="193" width="1" height="5" fill="#0000ff"/>
<rect x="845" y="193" width="3" height="5" fill="#0000ff"/>
<rect x="852" y="195" width="1" height="7" fill="#0000ff"/>
<rect x="851" y="196" width="3" height="4" fill="#0000ff"/>
<rect x="858" y="196" width="1" height="4" fill="#ff0000"/>
<rect x="857" y="197" width="3" height="3" fill="#ff0000"/>
<rect x="870" y="189" width="1" height="9" fill="#ff0000"/>
<rect x="869" y="192" width="3" height="6" fill="#ff0000"/>
<rect x="876" y="189" width="1" height="6" fill="#0000ff"/>
<rect x="875" y="191" width="3" height="4" fill="#0000ff"/>
<rect x="882" y="192" width="1" height="4" fill="#0000ff"/>
<rect x="881" y="192" width="3" height="2" fill="#0000ff"/>
<rect x="888" y="189" width="1" height="6" fill="#ff0000"/>
<rect x="887" y="190" width="3" height="5" fill="#ff0000"/>
<rect x="900" y="185" width="1" height="8" fill="#0000ff"/>
<rect x="899" y="190" width="3" height="3" fill="#0000ff"/>
<rect x="906" y="189" width="1" height="5" fill="#0000ff"/>
<rect x="905" y="191" width="3" height="3" fill="#0000ff"/>
<rect x="912" y="190" width="1" height="6" fill="#0000ff"/>
<rect x="911" y="191" width="3" height="4" fill="#0000ff"/>
<rect x="918" y="193" width="1" height="3" fill="#ff0000"/>
<rect x="917" y="193" width="3" height="3" fill="#ff0000"/>
<rect x="948" y="195" width="1" height="7" fill="#0000ff"/>
<rect x="947" y="196" width="3" height="5" fill="#0000ff"/>
<rect x="954" y="196" width="1" height="5" fill="#ff0000"/>
<rect x="953" y="196" width="3" height="5" fill="#ff0000"/>
<rect x="960" y="194" width="1" height="3" fill="#ff0000"/>
<rect x="959" y="194" width="3" height="3" fill="#ff0000"/>
<rect x="966" y="194" width="1" height="3" fill="#0000ff"/>
<rect x="965" y="194" width="3" height="3" fill="#0000ff"/>
<rect x="972" y="193" width="1" height="4" fill="#ff0000"/>
<rect x="971" y="193" width="3" height="4" fill="#ff0000"/>
<rect x="978" y="192" width="1" height="5" fill="#0000ff"/>
<rect x="977" y="192" width="3" height="5" fill="#0000ff"/>
<rect x="984" y="195" width="1" height="4" fill="#0000ff"/>
<rect x="983" y="195" width="3" height="4" fill="#0000ff"/>
<rect x="990" y="195" width="1" height="6" fill="#0000ff"/>
<rect x="989" y="195" width="3" height="4" fill="#0000ff"/>
<rect x="996" y="196" width="1" height="4" fill="#ff0000"/>
<rect x="995" y="196" width="3" height="4" fill="#ff0000"/>
<rect x="1002" y="194" width="1" height="5" fill="#ff0000"/>
<rect x="1001" y="194" width="3" height="5" fill="#ff0000"/>
<rect x="1008" y="194" width="1" height="3" fill="#0000ff"/>
<rect x="1007" y="194" width="3" height="3" fill="#0000ff"/>
</g>
<g shape-rendering="crispEdges">
<rect x="0" y="246" width="2" height="62" fill="#008000"/>
<rect x="5" y="301" width="3" height="7" fill="#008000"/>
<rect x="11" y="304" width="3" height="4" fill="#008000"/>
<rect x="17" y="305" width="3" height="3" fill="#008000"/>
<rect x="23" y="304" width="3" height="4" fill="#008000"/>
<rect x="29" y="306" width="3" height="2" fill="#008000"/>
<rect x="35" y="306" width="3" height="2" fill="#008000"/>
<rect x="41" y="307" width="3" height="1" fill="#008000"/>
<rect x="47" y="307" width="3" height="1" fill="#008000"/>
<rect x="53" y="307" width="3" height="1" fill="#008000"/>
<rect x="59" y="307" width="3" height="1" fill="#008000"/>
<rect x="65" y="307" width="3" height="1" fill="#008000"/>
<rect x="71" y="306" width="3" height="2" fill="#008000"/>
<rect x="77" y="307" width="3" height="1" fill="#008000"/>
<rect x="113" y="307" width="3" height="1" fill="#008000"/>
<rect x="131" y="307" width="3" height="1" fill="#008000"/>
<rect x="137" y="306" width="3" height="2" fill="#008000"/>
<rect x="155" y="306" width="3" height="2" fill="#008000"/>
<rect x="161" y="307" width="3" height="1" fill="#008000"/>
<rect x="173" y="307" width="3" height="1" fill="#008000"/>
<rect x="191" y="307" width="3" height="1" fill="#008000"/>
<rect x="209" y="307" width="3" height="1" fill="#008000"/>
<rect x="245" y="307" width="3" height="1" fill="#008000"/>
<rect x="251" y="307" width="3" height="1" fill="#008000"/>
<rect x="257" y="307" width="3" height="1" fill="#008000"/>
<rect x="263" y="307" width="3" height="1" fill="#008000"/>
<rect x="269" y="307" width="3" height="1" fill="#008000"/>
<rect x="293" y="307" width="3" height="1" fill="#008000"/>
<rect x="299" y="307" width="3" height="1" fill="#008000"/>
<rect x="311" y="307" width="3" height="1" fill="#008000"/>
<rect x="317" y="307" width="3" height="1" fill="#008000"/>
<rect x="323" y="307" width="3" height="1" fill="#008000"/>
<rect x="329" y="305" width="3" height="3" fill="#008000"/>
<rect x="335" y="305" width="3" height="3" fill="#008000"/>
<rect x="341" y="306" width="3" height="2" fill="#008000"/>
<rect x="347" y="306" width="3" height="2" fill="#008000"/>
<rect x="353" y="307" width="3" height="1" fill="#008000"/>
<rect x="371" y="307" width="3" height="1" fill="#008000"/>
<rect x="377" y="307" width="3" height="1" fill="#008000"/>
<rect x="491" y="307" width="3" height="1" fill="#008000"/>
<rect x="677" y="306" width="3" height="2" fill="#008000"/>
<rect x="707" y="307" width="3" height="1" fill="#008000"/>
<rect x="713" y="307" width="3" height="1" fill="#008000"/>
<rect x="719" y="307" width="3" height="1" fill="#008000"/>
<rect x="725" y="307" width="3" height="1" fill="#008000"/>
<rect x="0" y="308" width="1003" height="1" fill="#000"/>
</g>
<g shape-rendering="crispEdges" stroke-linejoin="round">
<rect x="0" y="352" width="1003" height="1" fill="#808080"/>
<rect x="78" y="351" width="1" height="1" fill="#ff0000"/>
<rect x="84" y="351" width="1" height="1" fill="#ff0000"/>
<rect x="90" y="351" width="1" height="1" fill="#ff0000"/>
<rect x="96" y="351" width="1" height="1" fill="#ff0000"/>
<rect x="102" y="351" width="1" height="1" fill="#ff0000"/>
<rect x="108" y="351" width="1" height="1" fill="#ff0000"/>
<rect x="114" y="350" width="1" height="2" fill="#ff0000"/>
<rect x="120" y="350" width="1" height="2" fill="#ff0000"/>
<rect x="126" y="350" width="1" height="2" fill="#ff0000"/>
<rect x="132" y="350" width="1" height="2" fill="#ff0000"/>
<rect x="138" y="349" width="1" height="3" fill="#ff0000"/>
<rect x="144" y="349" width="1" height="3" fill="#ff0000"/>
<rect x="150" y="350" width="1" height="2" fill="#ff0000"/>
<rect x="156" y="350" width="1" height="2" fill="#ff0000"/>
<rect x="162" y="351" width="1" height="1" fill="#ff0000"/>
<rect x="168" y="351" width="1" height="1" fill="#ff0000"/>
<rect x="174" y="352" width="1" height="1" fill="#ff0000"/>
<rect x="180" y="352" width="1" height="1" fill="#ff0000"/>
<rect x="186" y="353" width="1" height="1" fill="#ff0000"/>
<rect x="192" y="353" width="1" height="2" fill="#ff0000"/>
<rect x="198" y="353" width="1" height="2" fill="#ff0000"/>
<rect x="204" y="353" width="1" height="2" fill="#ff0000"/>
<rect x="210" y="353" width="1" height="3" fill="#ff0000"/>
<rect x="216" y="353" width="1" height="4" fill="#ff0000"/>
<rect x="222" y="353" width="1" height="3" fill="#ff0000"/>
<rect x="228" y="353" width="1" height="2" fill="#ff0000"/>
<rect x="234" y="353" width="1" height="2" fill="#ff0000"/>
<rect x="240" y="353" width="1" height="2" fill="#ff0000"/>
<rect x="246" y="353" width="1" height="4" fill="#ff0000"/>
<rect x="252" y="353" width="1" height="6" fill="#ff0000"/>
<rect x="258" y="353" width="1" height="6" fill="#ff0000"/>
<rect x="264" y="353" width="1" height="6" fill="#ff0000"/>
<rect x="270" y="353" width="1" height="5" fill="#ff0000"/>
<rect x="276" y="353" width="1" height="4" fill="#ff0000"/>
<rect x="282" y="353" width="1" height="4" fill="#ff0000"/>
<rect x="288" y="353" width="1" height="4" fill="#ff0000"/>
<rect x="294" y="353" width="1" height="5" fill="#ff0000"/>
<rect x="300" y="353" width="1" height="4" fill="#ff0000"/>
<rect x="306" y="353" width="1" height="4" fill="#ff0000"/>
<rect x="312" y="353" width="1" height="4" fill="#ff0000"/>
<rect x="318" y="353" width="1" height="3" fill="#ff0000"/>
<rect x="324" y="352" width="1" height="1" fill="#ff0000"/>
<rect x="330" y="352" width="1" height="1" fill="#ff0000"/>
<rect x="336" y="353" width="1" height="1" fill="#ff0000"/>
<rect x="342" y="352" width="1" height="1" fill="#ff0000"/>
<rect x="348" y="353" width="1" height="4" fill="#ff0000"/>
<rect x="354" y="353" width="1" height="7" fill="#ff0000"/>
<rect x="360" y="353" width="1" height="8" fill="#ff0000"/>
<rect x="366" y="353" width="1" height="8" fill="#ff0000"/>
<rect x="372" y="353" width="1" height="5" fill="#ff0000"/>
<rect x="378" y="352" width="1" height="1" fill="#ff0000"/>
<rect x="384" y="351" width="1" height="1" fill="#ff0000"/>
<rect x="390" y="348" width="1" height="4" fill="#ff0000"/>
<rect x="396" y="348" width="1" height="4" fill="#ff0000"/>
<rect x="402" y="348" width="1" height="4" fill="#ff0000"/>
<rect x="408" y="350" width="1" height="2" fill="#ff0000"/>
<rect x="414" y="351" width="1" height="1" fill="#ff0000"/>
<rect x="420" y="351" width="1" height="1" fill="#ff0000"/>
<rect x="426" y="351" width="1" height="1" fill="#ff0000"/>
<rect x="432" y="351" width="1" height="1" fill="#ff0000"/>
<rect x="438" y="351" width="1" height="1" fill="#ff0000"/>
<rect x="444" y="351" width="1" height="1" fill="#ff0000"/>
<rect x="450" y="351" width="1" height="1" fill="#ff0000"/>
<rect x="456" y="351" width="1" height="1" fill="#ff0000"/>
<rect x="462" y="350" width="1" height="2" fill="#ff0000"/>
<rect x="468" y="350" width="1" height="2" fill="#ff0000"/>
<rect x="474" y="350" width="1" height="2" fill="#ff0000"/>
<rect x="480" y="350" width="1" height="2" fill="#ff0000"/>
<rect x="486" y="349" width="1" height="3" fill="#ff0000"/>
<rect x="492" y="350" width="1" height="2" fill="#ff0000"/>
<rect x="498" y="350" width="1" height="2" fill="#ff0000"/>
<rect x="504" y="351" width="1" height="1" fill="#ff0000"/>
<rect x="510" y="351" width="1" height="1" fill="#ff0000"/>
<rect x="516" y="351" width="1" height="1" fill="#ff0000"/>
<rect x="522" y="351" width="1" height="1" fill="#ff0000"/>
<rect x="528" y="351" width="1" height="1" fill="#ff0000"/>
<rect x="534" y="350" width="1" height="2" fill="#ff0000"/>
<rect x="540" y="350" width="1" height="2" fill="#ff0000"/>
<rect x="546" y="350" width="1" height="2" fill="#ff0000"/>
<rect x="552" y="351" width="1" height="1" fill="#ff0000"/>
<rect x="558" y="352" width="1" height="1" fill="#ff0000"/>
<rect x="564" y="352" width="1" height="1" fill="#ff0000"/>
<rect x="570" y="352" width="1" height="1" fill="#ff0000"/>
<rect x="576" y="351" width="1" height="1" fill="#ff0000"/>
<rect x="582" y="351" width="1" height="1" fill="#ff0000"/>
<rect x="588" y="350" width="1" height="2" fill="#ff0000"/>
<rect x="594" y="350" width="1" height="2" fill="#ff0000"/>
<rect x="600" y="350" width="1" height="2" fill="#ff0000"/>
<rect x="606" y="350" width="1" height="2" fill="#ff0000"/>
<rect x="612" y="349" width="1" height="3" fill="#ff0000"/>
<rect x="618" y="350" width="1" height="2" fill="#ff0000"/>
<rect x="624" y="350" width="1" height="2" fill="#ff0000"/>
<rect x="630" y="350" width="1" height="2" fill="#ff0000"/>
<rect x="636" y="350" width="1" height="2" fill="#ff0000"/>
<rect x="642" y="351" width="1" height="1" fill="#ff0000"/>
<rect x="648" y="351" width="1" height="1" fill="#ff0000"/>
<rect x="654" y="351" width="1" height="1" fill="#ff0000"/>
<rect x="660" y="351" width="1" height="1" fill="#ff0000"/>
<rect x="666" y="351" width="1" height="1" fill="#ff0000"/>
<rect x="672" y="351" width="1" height="1" fill="#ff0000"/>
<rect x="678" y="353" width="1" height="1" fill="#ff0000"/>
<rect x="684" y="353" width="1" height="3" fill="#ff0000"/>
<rect x="690" y="353" width="1" height="4" fill="#ff0000"/>
<rect x="696" y="353" width="1" height="5" fill="#ff0000"/>
<rect x="702" y="353" width="1" height="6" fill="#ff0000"/>
<rect x="708" y="353" width="1" height="6" fill="#ff0000"/>
<rect x="714" y="353" width="1" height="8" fill="#ff0000"/>
<rect x="720" y="353" width="1" height="11" fill="#ff0000"/>
<rect x="726" y="353" width="1" height="14" fill="#ff0000"/>
<rect x="732" y="353" width="1" height="14" fill="#ff0000"/>
<rect x="738" y="353" width="1" height="14" fill="#ff0000"/>
<rect x="744" y="353" width="1" height="14" fill="#ff0000"/>
<rect x="750" y="353" width="1" height="12" fill="#ff0000"/>
<rect x="756" y="353" width="1" height="9" fill="#ff0000"/>
<rect x="762" y="353" width="1" height="5" fill="#ff0000"/>
<rect x="768" y="353" width="1" height="2" fill="#ff0000"/>
<rect x="774" y="353" width="1" height="1" fill="#ff0000"/>
<rect x="780" y="352" width="1" height="1" fill="#ff0000"/>
<rect x="786" y="350" width="1" height="2" fill="#ff0000"/>
<rect x="792" y="348" width="1" height="4" fill="#ff0000"/>
<rect x="798" y="346" width="1" height="6" fill="#ff0000"/>
<rect x="804" y="346" width="1" height="6" fill="#ff0000"/>
<rect x="810" y="344" width="1" height="8" fill="#ff0000"/>
<rect x="816" y="344" width="1" height="8" fill="#ff0000"/>
<rect x="822" y="344" width="1" height="8" fill="#ff0000"/>
<rect x="828" y="346" width="1" height="6" fill="#ff0000"/>
<rect x="834" y="346" width="1" height="6" fill="#ff0000"/>
<rect x="840" y="344" width="1" height="8" fill="#ff0000"/>
<rect x="846" y="346" width="1" height="6" fill="#ff0000"/>
<rect x="852" y="346" width="1" height="6" fill="#ff0000"/>
<rect x="858" y="346" width="1" height="6" fill="#ff0000"/>
<rect x="864" y="346" width="1" height="6" fill="#ff0000"/>
<rect x="870" y="346" width="1" height="6" fill="#ff0000"/>
<rect x="876" y="346" width="1" height="6" fill="#ff0000"/>
<rect x="882" y="346" width="1" height="6" fill="#ff0000"/>
<rect x="888" y="345" width="1" height="7" fill="#ff0000"/>
<rect x="894" y="346" width="1" height="6" fill="#ff0000"/>
<rect x="900" y="346" width="1" height="6" fill="#ff0000"/>
<rect x="906" y="346" width="1" height="6" fill="#ff0000"/>
<rect x="912" y="348" width="1" height="4" fill="#ff0000"/>
<rect x="918" y="348" width="1" height="4" fill="#ff0000"/>
<rect x="924" y="348" width="1" height="4" fill="#ff0000"/>
<rect x="930" y="348" width="1" height="4" fill="#ff0000"/>
<rect x="936" y="348" width="1" height="4" fill="#ff0000"/>
<rect x="942" y="350" width="1" height="2" fill="#ff0000"/>
<rect x="948" y="350" width="1" height="2" fill="#ff0000"/>
<rect x="954" y="350" width="1" height="2" fill="#ff0000"/>
<rect x="960" y="350" width="1" height="2" fill="#ff0000"/>
<rect x="966" y="350" width="1" height="2" fill="#ff0000"/>
<rect x="972" y="350" width="1" height="2" fill="#ff0000"/>
<rect x="978" y="350" width="1" height="2" fill="#ff0000"/>
<rect x="984" y="351" width="1" height="1" fill="#ff0000"/>
<rect x="990" y="351" width="1" height="1" fill="#ff0000"/>
<rect x="996" y="351" width="1" height="1" fill="#ff0000"/>
<rect x="1002" y="351" width="1" height="1" fill="#ff0000"/>
<rect x="1008" y="352" width="1" height="1" fill="#ff0000"/>
<path d="M146 343.5h21M135 344.5h11M167 344.5h3M131 345.5h4M170 345.5h4M127 346.5h4M174 346.5h5M123 347.5h4M179 347.5h6M118 348.5h5M185 348.5h7M113 349.5h5M192 349.5h6M79 350.5h34M198 350.5h5M70 351.5h9M203 351.5h5M208 352.5h5M213 353.5h5M218 354.5h5M223 355.5h5M228 356.5h5M958 356.5h51M233 357.5h5M923 357.5h35M238 358.5h3M912 358.5h11M241 359.5h2M905 359.5h7M243 360.5h2M629 360.5h44M899 360.5h6M245 361.5h2M617 361.5h12M673 361.5h2M894 361.5h5M247 362.5h2M607 362.5h10M675 362.5h2M891 362.5h3M249 363.5h3M600 363.5h7M677 363.5h2M888 363.5h3M252 364.5h2M594 364.5h6M679 364.5h3M885 364.5h3M254 365.5h2M588 365.5h6M682 365.5h2M882 365.5h3M256 366.5h3M584 366.5h4M684 366.5h2M879 366.5h3M259 367.5h2M580 367.5h4M686 367.5h2M876 367.5h3M261 368.5h10M537 368.5h43M688 368.5h2M872 368.5h4M271 369.5h11M531 369.5h6M690 369.5h2M869 369.5h3M282 370.5h3M515 370.5h16M692 370.5h2M866 370.5h3M285 371.5h3M490 371.5h25M694 371.5h3M862 371.5h4M288 372.5h3M475 372.5h15M697 372.5h2M857 372.5h5M291 373.5h3M330 373.5h4M471 373.5h4M699 373.5h2M850 373.5h7M294 374.5h4M325 374.5h5M334 374.5h4M467 374.5h4M701 374.5h3M844 374.5h6M298 375.5h6M320 375.5h5M338 375.5h3M459 375.5h8M704 375.5h2M839 375.5h5M304 376.5h6M315 376.5h5M440 376.5h19M706 376.5h2M836 376.5h3M310 377.5h5M415 377.5h25M833 377.5h3M396 378.5h19M709 378.5h2M830 378.5h3M390 379.5h6M827 379.5h3M388 380.5h2M823 380.5h4M713 381.5h2M819 381.5h4M385 382.5h2M815 382.5h4M348 383.5h2M811 383.5h4M350 384.5h2M382 384.5h2M717 384.5h2M808 384.5h3M805 385.5h3M353 386.5h2M379 386.5h2M803 386.5h2M355 387.5h2M377 387.5h2M800 387.5h3M357 388.5h2M375 388.5h2M798 388.5h2M359 389.5h3M373 389.5h2M796 389.5h2M362 390.5h3M369 390.5h4M794 390.5h2M365 391.5h4M792 391.5h2M726 392.5h2M790 392.5h2M787 394.5h2M785 395.5h2M783 396.5h2M781 397.5h2M733 398.5h2M778 398.5h3M735 399.5h2M775 399.5h3M737 400.5h2M772 400.5h3M739 401.5h2M769 401.5h3M741 402.5h2M766 402.5h3M743 403.5h2M762 403.5h4M745 404.5h2M759 404.5h3M747 405.5h2M754 405.5h5M749 406.5h5M341.5 376v1M342.5 377v1M343.5 378v1M344.5 379v1M345.5 380v1M346.5 381v1M347.5 382v1M352.5 385v1M381.5 385v1M384.5 383v1M387.5 381v1M708.5 377v1M711.5 379v1M712.5 380v1M715.5 382v1M716.5 383v1M719.5 385v1M720.5 386v1M721.5 387v1M722.5 388v1M723.5 389v1M724.5 390v1M725.5 391v1M728.5 393v1M729.5 394v1M730.5 395v1M731.5 396v1M732.5 397v1M789.5 393v1" fill="none" stroke="#ffff00" stroke-width="1"/>
<path d="M163 345.5h12M148 346.5h15M175 346.5h13M138 347.5h10M188 347.5h11M133 348.5h5M199 348.5h6M128 349.5h5M205 349.5h7M118 350.5h10M212 350.5h6M73 351.5h45M218 351.5h5M0 352.5h73M223 352.5h5M228 353.5h7M235 354.5h7M242 355.5h3M245 356.5h3M248 357.5h3M976 357.5h33M251 358.5h3M964 358.5h12M254 359.5h3M951 359.5h13M257 360.5h4M939 360.5h12M261 361.5h3M646 361.5h36M929 361.5h10M264 362.5h4M634 362.5h12M682 362.5h4M923 362.5h6M268 363.5h6M624 363.5h10M686 363.5h4M917 363.5h6M274 364.5h6M618 364.5h6M690 364.5h4M911 364.5h6M280 365.5h5M612 365.5h6M694 365.5h3M906 365.5h5M285 366.5h4M606 366.5h6M697 366.5h3M903 366.5h3M289 367.5h5M597 367.5h9M700 367.5h3M900 367.5h3M294 368.5h4M587 368.5h10M703 368.5h2M896 368.5h4M298 369.5h4M549 369.5h38M705 369.5h3M893 369.5h3M302 370.5h4M541 370.5h8M708 370.5h3M890 370.5h3M306 371.5h4M534 371.5h7M711 371.5h3M887 371.5h3M310 372.5h4M516 372.5h18M714 372.5h2M883 372.5h4M314 373.5h22M497 373.5h19M716 373.5h2M879 373.5h4M336 374.5h8M486 374.5h11M718 374.5h2M875 374.5h4M344 375.5h6M477 375.5h9M871 375.5h4M350 376.5h2M469 376.5h8M721 376.5h2M867 376.5h4M352 377.5h2M461 377.5h8M723 377.5h2M863 377.5h4M354 378.5h3M424 378.5h37M725 378.5h2M858 378.5h5M357 379.5h2M416 379.5h8M854 379.5h4M359 380.5h3M409 380.5h7M728 380.5h2M850 380.5h4M362 381.5h3M402 381.5h7M730 381.5h2M846 381.5h4M365 382.5h3M395 382.5h7M842 382.5h4M368 383.5h3M389 383.5h6M733 383.5h2M838 383.5h4M371 384.5h18M834 384.5h4M736 385.5h2M830 385.5h4M738 386.5h2M826 386.5h4M822 387.5h4M741 388.5h2M819 388.5h3M743 389.5h2M816 389.5h3M745 390.5h2M813 390.5h3M747 391.5h2M809 391.5h4M749 392.5h2M806 392.5h3M751 393.5h3M803 393.5h3M754 394.5h3M800 394.5h3M757 395.5h4M795 395.5h5M761 396.5h3M789 396.5h6M764 397.5h9M783 397.5h6M773 398.5h10M720.5 375v1M727.5 379v1M732.5 382v1M735.5 384v1M740.5 387v1" fill="none" stroke="#0000ff" stroke-width="1"/>
</g>
<g shape-rendering="crispEdges" stroke-linejoin="round">
<rect x="0" y="447" width="1003" height="1" fill="#0000ff"/>
<rect x="0" y="491" width="1003" height="1" fill="#ff0000"/>
<path d="M137 443.5h3M135 444.5h2M140 444.5h3M133 445.5h2M143 445.5h3M131 446.5h2M146 446.5h2M897 447.5h3M900 448.5h3M91 449.5h2M894 449.5h2M903 449.5h2M93 450.5h2M125 451.5h2M906 451.5h2M96 452.5h2M98 453.5h2M100 454.5h2M103 456.5h2M119 456.5h2M117 457.5h2M824 457.5h4M106 458.5h2M114 458.5h3M821 458.5h3M828 458.5h5M108 459.5h2M112 459.5h2M819 459.5h2M833 459.5h7M110 460.5h2M817 460.5h2M840 460.5h6M162 461.5h2M846 461.5h2M916 461.5h2M919 463.5h2M850 464.5h2M921 464.5h3M924 465.5h14M636 466.5h5M938 466.5h2M617 467.5h19M641 467.5h2M940 467.5h2M611 468.5h6M595 469.5h2M608 469.5h3M597 470.5h4M605 470.5h3M645 470.5h2M601 471.5h4M591 472.5h2M859 472.5h2M871 472.5h2M862 474.5h2M651 475.5h2M864 475.5h2M867 475.5h2M1005 476.5h2M973 477.5h5M1003 477.5h2M393 478.5h3M951 478.5h2M971 478.5h2M978 478.5h7M391 479.5h2M396 479.5h4M969 479.5h2M985 479.5h3M389 480.5h2M400 480.5h4M429 480.5h4M544 480.5h3M967 480.5h2M988 480.5h3M999 480.5h2M404 481.5h3M425 481.5h4M433 481.5h3M540 481.5h4M798 481.5h2M955 481.5h2M965 481.5h2M991 481.5h4M386 482.5h2M407 482.5h4M417 482.5h8M436 482.5h3M537 482.5h3M957 482.5h2M962 482.5h3M995 482.5h3M182 483.5h2M411 483.5h6M439 483.5h2M535 483.5h2M959 483.5h3M441 484.5h2M794 484.5h2M443 485.5h2M532 485.5h2M333 486.5h3M445 486.5h2M663 486.5h3M187 487.5h2M281 487.5h5M329 487.5h4M447 487.5h2M529 487.5h2M666 487.5h4M790 487.5h2M189 488.5h3M279 488.5h2M286 488.5h5M326 488.5h3M337 488.5h2M449 488.5h2M553 488.5h2M670 488.5h22M192 489.5h4M277 489.5h2M291 489.5h2M324 489.5h2M526 489.5h2M555 489.5h2M692 489.5h3M196 490.5h3M275 490.5h2M322 490.5h2M340 490.5h2M452 490.5h2M695 490.5h2M786 490.5h2M199 491.5h3M273 491.5h2M320 491.5h2M342 491.5h2M523 491.5h2M558 491.5h2M697 491.5h2M782 491.5h4M202 492.5h3M295 492.5h2M318 492.5h2M344 492.5h2M521 492.5h2M560 492.5h2M776 492.5h6M205 493.5h3M270 493.5h2M297 493.5h5M312 493.5h6M346 493.5h4M374 493.5h2M562 493.5h2M575 493.5h2M700 493.5h2M771 493.5h5M208 494.5h3M302 494.5h10M350 494.5h4M372 494.5h2M457 494.5h2M518 494.5h2M564 494.5h2M573 494.5h2M769 494.5h2M211 495.5h8M230 495.5h7M267 495.5h2M354 495.5h5M369 495.5h3M516 495.5h2M566 495.5h3M571 495.5h2M703 495.5h2M767 495.5h2M219 496.5h11M237 496.5h3M359 496.5h4M367 496.5h2M514 496.5h2M569 496.5h2M765 496.5h2M240 497.5h4M363 497.5h4M461 497.5h2M512 497.5h2M706 497.5h2M763 497.5h2M244 498.5h2M263 498.5h2M510 498.5h2M708 498.5h2M761 498.5h2M246 499.5h2M261 499.5h2M464 499.5h2M508 499.5h2M710 499.5h2M734 499.5h6M757 499.5h4M248 500.5h2M257 500.5h4M466 500.5h2M474 500.5h21M506 500.5h2M712 500.5h2M731 500.5h3M740 500.5h9M754 500.5h3M250 501.5h2M254 501.5h3M468 501.5h6M495 501.5h6M504 501.5h2M714 501.5h7M728 501.5h3M749 501.5h5M252 502.5h2M501 502.5h3M721 502.5h7M90.5 448v1M95.5 451v1M102.5 455v1M105.5 457v1M121.5 455v1M122.5 454v1M123.5 453v1M124.5 452v1M127.5 450v1M128.5 449v1M129.5 448v1M130.5 447v1M148.5 447v1M149.5 448v1M150.5 449v1M151.5 450v1M152.5 451v1M153.5 452v1M154.5 453v1M155.5 454v1M156.5 455v1M157.5 456v1M158.5 457v1M159.5 458v1M160.5 459v1M161.5 460v1M164.5 462v1M165.5 463v1M166.5 464v1M167.5 465v1M168.5 466v1M169.5 467v1M170.5 468v2M171.5 470v1M172.5 471v1M173.5 472v2M174.5 474v1M175.5 475v1M176.5 476v2M177.5 478v1M178.5 479v1M179.5 480v1M180.5 481v1M181.5 482v1M184.5 484v1M185.5 485v1M186.5 486v1M265.5 497v1M266.5 496v1M269.5 494v1M272.5 492v1M293.5 490v1M294.5 491v1M336.5 487v1M339.5 489v1M376.5 492v1M377.5 491v1M378.5 490v1M379.5 489v1M380.5 488v1M381.5 487v1M382.5 486v1M383.5 485v1M384.5 484v1M385.5 483v1M388.5 481v1M451.5 489v1M454.5 491v1M455.5 492v1M456.5 493v1M459.5 495v1M460.5 496v1M463.5 498v1M520.5 493v1M525.5 490v1M528.5 488v1M531.5 486v1M534.5 484v1M547.5 481v1M548.5 482v1M549.5 483v2M550.5 485v1M551.5 486v1M552.5 487v1M557.5 490v1M577.5 492v1M578.5 490v2M579.5 489v1M580.5 488v1M581.5 486v2M582.5 485v1M583.5 483v2M584.5 481v2M585.5 480v1M586.5 478v2M587.5 476v2M588.5 475v1M589.5 474v1M590.5 473v1M593.5 471v1M594.5 470v1M643.5 468v1M644.5 469v1M647.5 471v1M648.5 472v1M649.5 473v1M650.5 474v1M653.5 476v1M654.5 477v1M655.5 478v1M656.5 479v1M657.5 480v1M658.5 481v1M659.5 482v1M660.5 483v1M661.5 484v1M662.5 485v1M699.5 492v1M702.5 494v1M705.5 496v1M788.5 489v1M789.5 488v1M792.5 486v1M793.5 485v1M796.5 483v1M797.5 482v1M800.5 480v1M801.5 479v1M802.5 477v2M803.5 476v1M804.5 475v1M805.5 474v1M806.5 472v2M807.5 471v1M808.5 470v1M809.5 469v1M810.5 468v1M811.5 467v1M812.5 466v1M813.5 464v2M814.5 463v1M815.5 462v1M816.5 461v1M848.5 462v1M849.5 463v1M852.5 465v1M853.5 466v1M854.5 467v1M855.5 468v1M856.5 469v1M857.5 470v1M858.5 471v1M861.5 473v1M866.5 476v1M869.5 474v1M870.5 473v1M873.5 471v1M874.5 470v1M875.5 469v1M876.5 468v1M877.5 467v1M878.5 466v1M879.5 465v1M880.5 464v1M881.5 463v1M882.5 462v1M883.5 461v1M884.5 460v1M885.5 459v1M886.5 458v1M887.5 456v2M888.5 455v1M889.5 454v1M890.5 453v1M891.5 452v1M892.5 451v1M893.5 450v1M896.5 448v1M905.5 450v1M908.5 452v1M909.5 453v1M910.5 454v1M911.5 455v1M912.5 456v2M913.5 458v1M914.5 459v1M915.5 460v1M918.5 462v1M942.5 468v1M943.5 469v1M944.5 470v1M945.5 471v2M946.5 473v1M947.5 474v1M948.5 475v1M949.5 476v1M950.5 477v1M953.5 479v1M954.5 480v1M998.5 481v1M1001.5 479v1M1002.5 478v1M1007.5 475v1" fill="none" stroke="#ff0000" stroke-width="1"/>
<path d="M132 441.5h7M891 445.5h2M124 448.5h2M122 449.5h2M119 450.5h3M117 451.5h2M115 452.5h2M91 453.5h2M93 454.5h2M95 455.5h2M821 455.5h2M97 456.5h2M818 456.5h3M99 457.5h2M150 457.5h7M815 457.5h3M813 458.5h2M839 458.5h2M881 458.5h2M811 459.5h2M837 459.5h2M879 459.5h2M835 460.5h2M877 460.5h2M808 461.5h2M828 461.5h7M631 464.5h2M804 464.5h2M930 464.5h3M629 465.5h2M633 465.5h3M912 465.5h3M927 465.5h3M933 465.5h3M107 466.5h2M636 466.5h2M915 466.5h12M936 466.5h2M625 468.5h2M1002 469.5h6M617 470.5h7M594 471.5h2M602 473.5h2M598 474.5h2M853 474.5h2M855 475.5h2M857 476.5h2M389 477.5h2M859 477.5h2M387 478.5h2M391 478.5h2M535 478.5h6M648 478.5h2M961 478.5h2M385 479.5h2M393 479.5h2M424 479.5h3M650 479.5h2M862 479.5h2M963 479.5h2M383 480.5h2M395 480.5h2M420 480.5h4M652 480.5h2M791 480.5h2M965 480.5h2M978 480.5h8M381 481.5h2M397 481.5h2M417 481.5h3M531 481.5h2M789 481.5h2M986 481.5h2M399 482.5h2M415 482.5h2M429 482.5h2M787 482.5h2M988 482.5h2M325 483.5h7M401 483.5h2M413 483.5h2M990 483.5h7M176 484.5h2M403 484.5h2M411 484.5h2M432 484.5h2M178 485.5h2M405 485.5h2M409 485.5h2M434 485.5h3M954 485.5h2M180 486.5h2M407 486.5h2M437 486.5h4M673 486.5h2M952 486.5h2M441 487.5h2M684 487.5h5M950 487.5h2M183 488.5h2M443 488.5h2M523 488.5h2M676 488.5h2M680 488.5h4M689 488.5h3M948 488.5h2M185 489.5h2M270 489.5h2M445 489.5h2M678 489.5h2M187 490.5h2M282 490.5h7M447 490.5h2M510 490.5h5M661 490.5h3M777 490.5h4M189 491.5h2M449 491.5h2M515 491.5h6M664 491.5h3M770 491.5h7M191 492.5h12M337 492.5h2M766 492.5h4M203 493.5h2M301 493.5h13M339 493.5h2M764 493.5h2M205 494.5h2M264 494.5h2M299 494.5h2M314 494.5h4M341 494.5h2M762 494.5h2M207 495.5h2M221 495.5h13M262 495.5h2M343 495.5h10M556 495.5h7M760 495.5h2M209 496.5h2M219 496.5h2M234 496.5h2M260 496.5h2M296 496.5h2M353 496.5h5M552 496.5h4M563 496.5h5M758 496.5h2M211 497.5h8M236 497.5h2M258 497.5h2M358 497.5h5M568 497.5h3M700 497.5h2M238 498.5h2M256 498.5h2M363 498.5h3M731 498.5h3M755 498.5h2M254 499.5h2M457 499.5h2M475 499.5h16M703 499.5h2M729 499.5h2M734 499.5h3M241 500.5h2M252 500.5h2M459 500.5h2M470 500.5h5M491 500.5h2M705 500.5h2M727 500.5h2M737 500.5h3M752 500.5h2M243 501.5h2M250 501.5h2M461 501.5h2M466 501.5h4M493 501.5h2M707 501.5h3M720 501.5h7M740 501.5h4M748 501.5h4M245 502.5h2M248 502.5h2M463 502.5h3M495 502.5h2M710 502.5h2M718 502.5h2M744 502.5h4M497 503.5h7M712 503.5h2M716 503.5h2M714 504.5h2M90.5 452v1M101.5 458v1M102.5 459v1M103.5 460v2M104.5 462v1M105.5 463v1M106.5 464v2M108.5 467v1M109.5 464v2M110.5 462v2M111.5 460v2M112.5 458v2M113.5 456v2M114.5 454v2M115.5 453v1M126.5 447v1M127.5 446v1M128.5 445v1M129.5 444v1M130.5 443v1M131.5 442v1M139.5 442v2M140.5 444v2M141.5 446v2M142.5 448v2M143.5 450v1M144.5 451v1M145.5 452v1M146.5 453v1M147.5 454v1M148.5 455v1M149.5 456v1M157.5 458v1M158.5 459v2M159.5 461v1M160.5 462v1M161.5 463v2M162.5 465v1M163.5 466v2M164.5 468v1M165.5 469v1M166.5 470v2M167.5 472v1M168.5 473v1M169.5 474v2M170.5 476v1M171.5 477v2M172.5 479v1M173.5 480v1M174.5 481v2M175.5 483v1M182.5 487v1M240.5 499v1M247.5 503v1M266.5 493v1M267.5 492v1M268.5 491v1M269.5 490v1M272.5 488v1M273.5 487v1M274.5 486v1M275.5 485v1M276.5 484v1M277.5 485v1M278.5 486v1M279.5 487v1M280.5 488v1M281.5 489v1M289.5 491v1M290.5 492v1M291.5 493v1M292.5 494v1M293.5 495v1M294.5 496v1M295.5 497v1M298.5 495v1M318.5 492v2M319.5 491v1M320.5 490v1M321.5 488v2M322.5 487v1M323.5 486v1M324.5 484v2M332.5 484v2M333.5 486v1M334.5 487v2M335.5 489v2M336.5 491v1M366.5 497v1M367.5 496v1M368.5 495v1M369.5 493v2M370.5 492v1M371.5 491v1M372.5 490v1M373.5 489v1M374.5 488v1M375.5 487v1M376.5 486v1M377.5 485v1M378.5 484v1M379.5 483v1M380.5 482v1M427.5 480v1M428.5 481v1M431.5 483v1M451.5 492v1M452.5 493v1M453.5 494v2M454.5 496v1M455.5 497v1M456.5 498v1M504.5 501v2M505.5 499v2M506.5 497v2M507.5 495v2M508.5 493v2M509.5 491v2M521.5 490v1M522.5 489v1M525.5 487v1M526.5 486v1M527.5 485v1M528.5 484v1M529.5 483v1M530.5 482v1M533.5 480v1M534.5 479v1M541.5 479v1M542.5 480v2M543.5 482v1M544.5 483v1M545.5 484v2M546.5 486v1M547.5 487v2M548.5 489v2M549.5 491v1M550.5 492v2M551.5 494v2M571.5 495v2M572.5 493v2M573.5 491v2M574.5 489v2M575.5 487v2M576.5 485v2M577.5 483v2M578.5 481v2M579.5 479v2M580.5 477v2M581.5 475v2M582.5 473v2M583.5 471v2M584.5 470v1M585.5 468v2M586.5 466v2M587.5 464v2M588.5 463v1M589.5 464v2M590.5 466v1M591.5 467v1M592.5 468v2M593.5 470v1M596.5 472v1M597.5 473v1M600.5 475v1M601.5 474v1M604.5 472v1M605.5 471v1M606.5 469v2M607.5 468v1M608.5 467v1M609.5 465v2M610.5 464v1M611.5 462v2M612.5 461v1M613.5 462v2M614.5 464v2M615.5 466v2M616.5 468v2M624.5 469v1M627.5 467v1M628.5 466v1M638.5 467v1M639.5 468v1M640.5 469v1M641.5 470v1M642.5 471v1M643.5 472v2M644.5 474v1M645.5 475v1M646.5 476v1M647.5 477v1M654.5 481v1M655.5 482v2M656.5 484v1M657.5 485v1M658.5 486v1M659.5 487v2M660.5 489v1M667.5 490v1M668.5 489v1M669.5 488v1M670.5 487v1M671.5 486v1M672.5 485v1M675.5 487v1M692.5 489v1M693.5 490v1M694.5 491v1M695.5 492v1M696.5 493v1M697.5 494v1M698.5 495v1M699.5 496v1M702.5 498v1M754.5 499v1M757.5 497v1M781.5 489v1M782.5 488v1M783.5 487v1M784.5 485v2M785.5 484v1M786.5 483v1M793.5 479v1M794.5 478v1M795.5 477v1M796.5 476v1M797.5 475v1M798.5 474v1M799.5 472v2M800.5 470v2M801.5 468v2M802.5 466v2M803.5 465v1M806.5 463v1M807.5 462v1M810.5 460v1M823.5 456v1M824.5 457v1M825.5 458v1M826.5 459v1M827.5 460v1M841.5 459v1M842.5 460v1M843.5 461v2M844.5 463v1M845.5 464v1M846.5 465v1M847.5 466v1M848.5 467v2M849.5 469v1M850.5 470v1M851.5 471v2M852.5 473v1M861.5 478v1M864.5 480v1M865.5 478v2M866.5 476v2M867.5 474v2M868.5 472v2M869.5 470v2M870.5 468v2M871.5 466v2M872.5 465v1M873.5 464v1M874.5 463v1M875.5 462v1M876.5 461v1M883.5 456v2M884.5 454v2M885.5 453v1M886.5 451v2M887.5 449v2M888.5 448v1M889.5 447v1M890.5 446v1M893.5 444v1M894.5 443v1M895.5 444v2M896.5 446v1M897.5 447v2M898.5 449v1M899.5 450v2M900.5 452v1M901.5 453v1M902.5 454v1M903.5 455v1M904.5 456v1M905.5 457v1M906.5 458v1M907.5 459v1M908.5 460v1M909.5 461v2M910.5 463v1M911.5 464v1M938.5 467v2M939.5 469v2M940.5 471v2M941.5 473v2M942.5 475v2M943.5 477v2M944.5 479v2M945.5 481v2M946.5 483v2M947.5 485v2M948.5 487v1M956.5 484v1M957.5 483v1M958.5 481v2M959.5 480v1M960.5 479v1M967.5 479v1M968.5 478v1M969.5 476v2M970.5 475v1M971.5 474v1M972.5 473v1M973.5 474v1M974.5 475v1M975.5 476v2M976.5 478v1M977.5 479v1M996.5 482v1M997.5 480v2M998.5 478v2M999.5 475v3M1000.5 473v2M1001.5 471v2M1002.5 470v1" fill="none" stroke="#0000ff" stroke-width="1"/>
</g>
<g shape-rendering="crispEdges">
<rect x="0" y="519" width="1125" height="1" fill="#000"/>
<rect x="6" y="519" width="1" height="5" fill="#000"/>
<rect x="126" y="519" width="1" height="5" fill="#000"/>
<rect x="216" y="519" width="1" height="5" fill="#000"/>
<rect x="342" y="519" width="1" height="5" fill="#000"/>
<rect x="462" y="519" width="1" height="5" fill="#000"/>
<rect x="552" y="519" width="1" height="5" fill="#000"/>
<rect x="678" y="519" width="1" height="5" fill="#000"/>
<rect x="798" y="519" width="1" height="5" fill="#000"/>
<rect x="888" y="519" width="1" height="5" fill="#000"/>
<rect x="984" y="519" width="1" height="5" fill="#000"/>
<rect x="1080" y="519" width="1" height="5" fill="#000"/>
</g>
<text y="539" font-size="12" fill="#000" font-family='"Liberation Mono", "IPAGothic", monospace'>
<tspan x="5.25" textLength="12" lengthAdjust="spacingAndGlyphs" font-family='"Liberation Sans", "IPAGothic", sans-serif'>04</tspan>
<tspan x="17.25" textLength="6" lengthAdjust="spacingAndGlyphs">/</tspan>
<tspan x="23.25" textLength="12" lengthAdjust="spacingAndGlyphs" font-family='"Liberation Sans", "IPAGothic", sans-serif'>02</tspan>
</text>
<text y="539" font-size="12" fill="#000" font-family='"Liberation Mono", "IPAGothic", monospace'>
<tspan x="125.25" textLength="12" lengthAdjust="spacingAndGlyphs" font-family='"Liberation Sans", "IPAGothic", sans-serif'>10</tspan>
<tspan x="137.25" textLength="6" lengthAdjust="spacingAndGlyphs">:</tspan>
<tspan x="143.25" textLength="12" lengthAdjust="spacingAndGlyphs" font-family='"Liberation Sans", "IPAGothic", sans-serif'>40</tspan>
</text>
<text y="539" font-size="12" fill="#000" font-family='"Liberation Mono", "IPAGothic", monospace'>
<tspan x="215.25" textLength="12" lengthAdjust="spacingAndGlyphs" font-family='"Liberation Sans", "IPAGothic", sans-serif'>13</tspan>
<tspan x="227.25" textLength="6" lengthAdjust="spacingAndGlyphs">:</tspan>
<tspan x="233.25" textLength="12" lengthAdjust="spacingAndGlyphs" font-family='"Liberation Sans", "IPAGothic", sans-serif'>20</tspan>
</text>
<text y="539" font-size="12" fill="#000" font-family='"Liberation Mono", "IPAGothic", monospace'>
<tspan x="341.25" textLength="12" lengthAdjust="spacingAndGlyphs" font-family='"Liberation Sans", "IPAGothic", sans-serif'>04</tspan>
<tspan x="353.25" textLength="6" lengthAdjust="spacingAndGlyphs">/</tspan>
<tspan x="359.25" textLength="12" lengthAdjust="spacingAndGlyphs" font-family='"Liberation Sans", "IPAGothic", sans-serif'>05</tspan>
</text>
<text y="539" font-size="12" fill="#000" font-family='"Liberation Mono", "IPAGothic", monospace'>
<tspan x="461.25" textLength="12" lengthAdjust="spacingAndGlyphs" font-family='"Liberation Sans", "IPAGothic", sans-serif'>10</tspan>
<tspan x="473.25" textLength="6" lengthAdjust="spacingAndGlyphs">:</tspan>
<tspan x="479.25" textLength="12" lengthAdjust="spacingAndGlyphs" font-family='"Liberation Sans", "IPAGothic", sans-serif'>40</tspan>
</text>
<text y="539" font-size="12" fill="#000" font-family='"Liberation Mono", "IPAGothic", monospace'>
<tspan x="551.25" textLength="12" lengthAdjust="spacingAndGlyphs" font-family='"Liberation Sans", "IPAGothic", sans-serif'>13</tspan>
<tspan x="563.25" textLength="6" lengthAdjust="spacingAndGlyphs">:</tspan>
<tspan x="569.25" textLength="12" lengthAdjust="spacingAndGlyphs" font-family='"Liberation Sans", "IPAGothic", sans-serif'>20</tspan>
</text>
<text y="539" font-size="12" fill="#000" font-family='"Liberation Mono", "IPAGothic", monospace'>
<tspan x="677.25" textLength="12" lengthAdjust="spacingAndGlyphs" font-family='"Liberation Sans", "IPAGothic", sans-serif'>04</tspan>
<tspan x="689.25" textLength="6" lengthAdjust="spacingAndGlyphs">/</tspan>
<tspan x="695.25" textLength="12" lengthAdjust="spacingAndGlyphs" font-family='"Liberation Sans", "IPAGothic", sans-serif'>06</tspan>
</text>
<text y="539" font-size="12" fill="#000" font-family='"Liberation Mono", "IPAGothic", monospace'>
<tspan x="797.25" textLength="12" lengthAdjust="spacingAndGlyphs" font-family='"Liberation Sans", "IPAGothic", sans-serif'>10</tspan>
<tspan x="809.25" textLength="6" lengthAdjust="spacingAndGlyphs">:</tspan>
<tspan x="815.25" textLength="12" lengthAdjust="spacingAndGlyphs" font-family='"Liberation Sans", "IPAGothic", sans-serif'>40</tspan>
</text>
<text y="539" font-size="12" fill="#000" font-family='"Liberation Mono", "IPAGothic", monospace'>
<tspan x="887.25" textLength="12" lengthAdjust="spacingAndGlyphs" font-family='"Liberation Sans", "IPAGothic", sans-serif'>13</tspan>
<tspan x="899.25" textLength="6" lengthAdjust="spacingAndGlyphs">:</tspan>
<tspan x="905.25" textLength="12" lengthAdjust="spacingAndGlyphs" font-family='"Liberation Sans", "IPAGothic", sans-serif'>20</tspan>
</text>
<text y="539" font-size="12" fill="#000" font-family='"Liberation Mono", "IPAGothic", monospace'>
<tspan x="983.25" textLength="12" lengthAdjust="spacingAndGlyphs" font-family='"Liberation Sans", "IPAGothic", sans-serif'>14</tspan>
<tspan x="995.25" textLength="6" lengthAdjust="spacingAndGlyphs">:</tspan>
<tspan x="1001.25" textLength="12" lengthAdjust="spacingAndGlyphs" font-family='"Liberation Sans", "IPAGothic", sans-serif'>40</tspan>
</text>
<text y="539" font-size="12" fill="#000" font-family='"Liberation Mono", "IPAGothic", monospace'>
<tspan x="1079.25" textLength="12" lengthAdjust="spacingAndGlyphs" font-family='"Liberation Sans", "IPAGothic", sans-serif'>16</tspan>
<tspan x="1091.25" textLength="6" lengthAdjust="spacingAndGlyphs">:</tspan>
<tspan x="1097.25" textLength="12" lengthAdjust="spacingAndGlyphs" font-family='"Liberation Sans", "IPAGothic", sans-serif'>00</tspan>
</text>
<text y="13" font-size="12" fill="#000" font-family='"Liberation Mono", "IPAGothic", monospace'>
<tspan x="3" textLength="48" lengthAdjust="spacing">第一生命</tspan>
<tspan x="51" textLength="6" lengthAdjust="spacingAndGlyphs">(</tspan>
<tspan x="63" textLength="6" lengthAdjust="spacingAndGlyphs" font-family='"Liberation Sans", "IPAGothic", sans-serif'>5</tspan>
<tspan x="69">分</tspan>
<tspan x="81" textLength="6" lengthAdjust="spacingAndGlyphs">,</tspan>
<tspan x="93" textLength="24" lengthAdjust="spacingAndGlyphs" font-family='"Liberation Sans", "IPAGothic", sans-serif'>2010</tspan>
<tspan x="117" textLength="6" lengthAdjust="spacingAndGlyphs">/</tspan>
<tspan x="123" textLength="12" lengthAdjust="spacingAndGlyphs" font-family='"Liberation Sans", "IPAGothic", sans-serif'>04</tspan>
<tspan x="135" textLength="6" lengthAdjust="spacingAndGlyphs">/</tspan>
<tspan x="141" textLength="12" lengthAdjust="spacingAndGlyphs" font-family='"Liberation Sans", "IPAGothic", sans-serif'>01</tspan>
<tspan x="159" textLength="6" lengthAdjust="spacingAndGlyphs">-</tspan>
<tspan x="171" textLength="24" lengthAdjust="spacingAndGlyphs" font-family='"Liberation Sans", "IPAGothic", sans-serif'>2010</tspan>
<tspan x="195" textLength="6" lengthAdjust="spacingAndGlyphs">/</tspan>
<tspan x="201" textLength="12" lengthAdjust="spacingAndGlyphs" font-family='"Liberation Sans", "IPAGothic", sans-serif'>04</tspan>
<tspan x="213" textLength="6" lengthAdjust="spacingAndGlyphs">/</tspan>
<tspan x="219" textLength="12" lengthAdjust="spacingAndGlyphs" font-family='"Liberation Sans", "IPAGothic", sans-serif'>06</tspan>
<tspan x="237" textLength="6" lengthAdjust="spacingAndGlyphs">)</tspan>
</text>
<text y="13" font-size="12" fill="#000" font-family='"Liberation Mono", "IPAGothic", monospace'>
<tspan x="262" textLength="60" lengthAdjust="spacing">一目均衡表</tspan>
<tspan x="322" textLength="6" lengthAdjust="spacingAndGlyphs">(</tspan>
<tspan x="334" textLength="6" lengthAdjust="spacingAndGlyphs" font-family='"Liberation Sans", "IPAGothic", sans-serif'>9</tspan>
<tspan x="340" textLength="6" lengthAdjust="spacingAndGlyphs">,</tspan>
<tspan x="352" textLength="12" lengthAdjust="spacingAndGlyphs" font-family='"Liberation Sans", "IPAGothic", sans-serif'>26</tspan>
<tspan x="364" textLength="6" lengthAdjust="spacingAndGlyphs">,</tspan>
<tspan x="376" textLength="12" lengthAdjust="spacingAndGlyphs" font-family='"Liberation Sans", "IPAGothic", sans-serif'>52</tspan>
<tspan x="394" textLength="6" lengthAdjust="spacingAndGlyphs">)</tspan>
</text>
<text y="13" font-size="12" fill="#000" font-family='"Liberation Mono", "IPAGothic", monospace'>
<tspan x="421" textLength="48" lengthAdjust="spacing">移動平均</tspan>
<tspan x="469" textLength="6" lengthAdjust="spacingAndGlyphs">(</tspan>
<tspan x="481" textLength="36" lengthAdjust="spacingAndGlyphs">Close,</tspan>
<tspan x="523" textLength="6" lengthAdjust="spacingAndGlyphs" font-family='"Liberation Sans", "IPAGothic", sans-serif'>5</tspan>
<tspan x="535" textLength="6" lengthAdjust="spacingAndGlyphs">)</tspan>
</text>
<text y="13" font-size="12" fill="#000" font-family='"Liberation Mono", "IPAGothic", monospace'>
<tspan x="561" textLength="48" lengthAdjust="spacing">移動平均</tspan>
<tspan x="609" textLength="6" lengthAdjust="spacingAndGlyphs">(</tspan>
<tspan x="621" textLength="36" lengthAdjust="spacingAndGlyphs">Close,</tspan>
<tspan x="663" textLength="12" lengthAdjust="spacingAndGlyphs" font-family='"Liberation Sans", "IPAGothic", sans-serif'>75</tspan>
<tspan x="681" textLength="6" lengthAdjust="spacingAndGlyphs">)</tspan>
</text>
<text y="13" font-size="12" fill="#000" font-family='"Liberation Mono", "IPAGothic", monospace'>
<tspan x="707" textLength="48" lengthAdjust="spacing">移動平均</tspan>
<tspan x="755" textLength="6" lengthAdjust="spacingAndGlyphs">(</tspan>
<tspan x="767" textLength="36" lengthAdjust="spacingAndGlyphs">Close,</tspan>
<tspan x="809" textLength="12" lengthAdjust="spacingAndGlyphs" font-family='"Liberation Sans", "IPAGothic", sans-serif'>25</tspan>
<tspan x="827" textLength="6" lengthAdjust="spacingAndGlyphs">)</tspan>
</text>
<text y="241" font-size="12" fill="#000" font-family='"Liberation Mono", "IPAGothic", monospace'>
<tspan x="3" textLength="36" lengthAdjust="spacing">出来高</tspan>
</text>
<text y="338" font-size="12" fill="#000" font-family='"Liberation Mono", "IPAGothic", monospace'>
<tspan x="3.5" textLength="30" lengthAdjust="spacingAndGlyphs">MACD(</tspan>
<tspan x="39.5" textLength="12" lengthAdjust="spacingAndGlyphs" font-family='"Liberation Sans", "IPAGothic", sans-serif'>12</tspan>
<tspan x="51.5" textLength="6" lengthAdjust="spacingAndGlyphs">,</tspan>
<tspan x="63.5" textLength="12" lengthAdjust="spacingAndGlyphs" font-family='"Liberation Sans", "IPAGothic", sans-serif'>26</tspan>
<tspan x="75.5" textLength="6" lengthAdjust="spacingAndGlyphs">,</tspan>
<tspan x="87.5" textLength="6" lengthAdjust="spacingAndGlyphs" font-family='"Liberation Sans", "IPAGothic", sans-serif'>9</tspan>
<tspan x="99.5" textLength="6" lengthAdjust="spacingAndGlyphs">)</tspan>
</text>
<text y="435" font-size="12" fill="#000" font-family='"Liberation Mono", "IPAGothic", monospace'>
<tspan x="3" textLength="156" lengthAdjust="spacing">スロー・ストキャスティクス</tspan>
<tspan x="159" textLength="6" lengthAdjust="spacingAndGlyphs">(</tspan>
<tspan x="171" textLength="12" lengthAdjust="spacingAndGlyphs" font-family='"Liberation Sans", "IPAGothic", sans-serif'>14</tspan>
<tspan x="183" textLength="6" lengthAdjust="spacingAndGlyphs">,</tspan>
<tspan x="195" textLength="6" lengthAdjust="spacingAndGlyphs" font-family='"Liberation Sans", "IPAGothic", sans-serif'>3</tspan>
<tspan x="201" textLength="6" lengthAdjust="spacingAndGlyphs">,</tspan>
<tspan x="213" textLength="12" lengthAdjust="spacingAndGlyphs" font-family='"Liberation Sans", "IPAGothic", sans-serif'>80</tspan>
<tspan x="225" textLength="6" lengthAdjust="spacingAndGlyphs">,</tspan>
<tspan x="237" textLength="12" lengthAdjust="spacingAndGlyphs" font-family='"Liberation Sans", "IPAGothic", sans-serif'>20</tspan>
<tspan x="255" textLength="6" lengthAdjust="spacingAndGlyphs">)</tspan>
</text>
<ellipse cx="863" cy="194" rx="29.5" ry="20.5" fill="none" stroke="#0d3f0d" stroke-width="5"/>
<g stroke="#ed1c24" stroke-width="5" stroke-linecap="round" stroke-linejoin="round" fill="none">
<line x1="1011.5" y1="192.3" x2="1137.3" y2="142.8"/>
<polyline points="1106.5,140.6 1137.3,142.8 1130.6,167.6"/>
</g>
<text transform="translate(350 182) scale(1 0.89)" font-size="13.05" fill="#0c480c" font-family='"Liberation Sans", "Noto Sans CJK JP", sans-serif'>遅行線が実体の下ということは、</text>
<text transform="translate(350 207) scale(1 0.89)" font-size="13.05" fill="#0c480c" font-family='"Liberation Sans", "Noto Sans CJK JP", sans-serif'>買い方は含み損で需給が悪い状態</text>
<text transform="translate(891 94.2) scale(1 0.89)" font-size="13.05" fill="#222222" font-family='"Liberation Sans", "Noto Sans CJK JP", sans-serif'>雲の下で推移してる限りは戻り売りサイン。</text>
<text transform="translate(891 119.5) scale(1 0.89)" font-size="13.05" fill="#222222" font-family='"Liberation Sans", "Noto Sans CJK JP", sans-serif'>ただし、このまま雲上抜け出来そうな気もす</text>
<text transform="translate(891 145.5) scale(1 0.89)" font-size="13.05" fill="#222222" font-family='"Liberation Sans", "Noto Sans CJK JP", sans-serif'>る。雲抜け出来れば買いサイン。</text>
<text transform="translate(834 241.7) scale(1 0.89)" font-size="13.05" fill="#0c480c" font-family='"Liberation Sans", "Noto Sans CJK JP", sans-serif'>遅行線も実体に突っ込んできた。</text>
<text transform="translate(834 267.5) scale(1 0.89)" font-size="13.05" fill="#0c480c" font-family='"Liberation Sans", "Noto Sans CJK JP", sans-serif'>実体を上抜ければ需給は悪<tspan font-family='"Noto Sans CJK JP", "Liberation Sans", sans-serif'>→</tspan>良に逆転す</text>
<text transform="translate(834 293.5) scale(1 0.89)" font-size="13.05" fill="#0c480c" font-family='"Liberation Sans", "Noto Sans CJK JP", sans-serif'>る</text>
<text transform="translate(1149 154.7) scale(1 0.89)" font-size="13.05" fill="#ed1c24" font-family='"Liberation Sans", "Noto Sans CJK JP", sans-serif'>上抜け出来るか？</text>
</svg>
</body></html>
